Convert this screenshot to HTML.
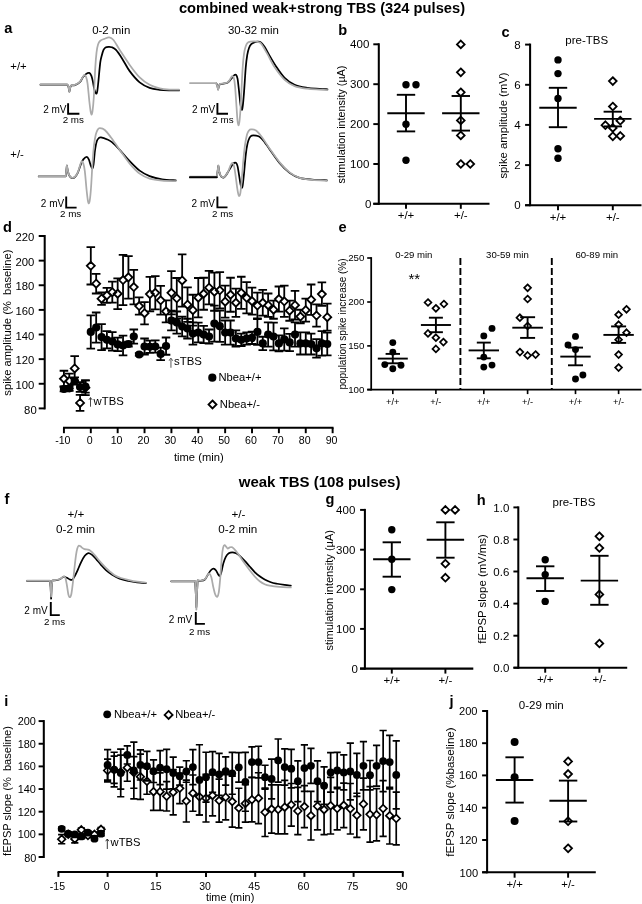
<!DOCTYPE html>
<html><head><meta charset="utf-8"><title>figure</title>
<style>
html,body{margin:0;padding:0;background:#fff;}
svg{display:block;font-family:'Liberation Sans', Arial, Helvetica, sans-serif;}
</style></head><body>
<svg width="642" height="904" viewBox="0 0 642 904">
<rect width="642" height="904" fill="#fff"/>
<text x="322" y="13" font-size="14.7" text-anchor="middle" font-weight="bold" fill="#000">combined weak+strong TBS (324 pulses)</text>
<text x="319.6" y="486.9" font-size="15" text-anchor="middle" font-weight="bold" fill="#000">weak TBS (108 pulses)</text>
<text x="4.2" y="33.4" font-size="14.6" text-anchor="start" font-weight="bold" fill="#000">a</text>
<text x="338.3" y="34.7" font-size="14.6" text-anchor="start" font-weight="bold" fill="#000">b</text>
<text x="501.6" y="36.6" font-size="14.6" text-anchor="start" font-weight="bold" fill="#000">c</text>
<text x="3" y="232.1" font-size="14.6" text-anchor="start" font-weight="bold" fill="#000">d</text>
<text x="338.5" y="232.3" font-size="14.6" text-anchor="start" font-weight="bold" fill="#000">e</text>
<text x="4.5" y="503.9" font-size="14.6" text-anchor="start" font-weight="bold" fill="#000">f</text>
<text x="325.6" y="504.2" font-size="14.6" text-anchor="start" font-weight="bold" fill="#000">g</text>
<text x="476.7" y="504.6" font-size="14.6" text-anchor="start" font-weight="bold" fill="#000">h</text>
<text x="4.2" y="705.6" font-size="14.6" text-anchor="start" font-weight="bold" fill="#000">i</text>
<text x="449.6" y="705.7" font-size="14.6" text-anchor="start" font-weight="bold" fill="#000">j</text>
<path d="M40.47 84.7L54.92 84.7L67.38 84.7L68.38 86.32L69.38 91.56L70.37 87.07L71.37 85.33C71.95 85.29 73.45 85.62 74.86 85.08C76.27 84.54 78.52 83.37 79.84 82.09C81.17 80.8 81.84 78.68 82.83 77.35C83.83 76.02 84.75 74.86 85.83 74.11C86.91 73.36 88.4 72.62 89.31 72.87C90.23 73.12 90.73 74.24 91.31 75.61C91.89 76.98 92.31 78.81 92.8 81.09C93.3 83.37 93.76 87.24 94.3 89.31C94.84 91.39 95.55 93.26 96.04 93.55C96.54 93.84 96.87 93.34 97.29 91.06C97.71 88.77 98.04 84.62 98.54 79.84C99.03 75.07 99.74 66.47 100.28 62.4C100.82 58.33 101.24 57.5 101.78 55.42C102.32 53.34 102.9 51.27 103.52 49.94C104.14 48.61 104.68 47.96 105.51 47.45C106.34 46.93 107.47 46.86 108.5 46.82C109.54 46.78 110.5 46.68 111.74 47.2C112.99 47.72 114.24 48.03 115.98 49.94C117.73 51.85 119.93 55.13 122.21 58.66C124.5 62.19 126.78 67.18 129.69 71.12C132.6 75.07 136.33 79.55 139.66 82.34C142.98 85.12 146.3 86.57 149.63 87.82C152.95 89.07 156.27 89.38 159.6 89.81C162.92 90.25 166.32 90.33 169.56 90.44C172.8 90.54 177.46 90.44 179.03 90.44" fill="none" stroke="#000" stroke-width="1.75" stroke-linecap="round" stroke-linejoin="round"/>
<path d="M40.47 84.33L54.92 84.33L67.38 84.33L68.38 86.07L69.38 91.81L70.37 86.82L71.37 85.08C71.95 85.04 73.45 85.37 74.86 84.83C76.27 84.29 78.6 83 79.84 81.84C81.09 80.67 81.59 79.01 82.34 77.85C83.08 76.69 83.71 75.03 84.33 74.86C84.95 74.69 85.53 75.4 86.07 76.85C86.61 78.31 87.03 79.55 87.57 83.58C88.11 87.61 88.82 96.46 89.31 101.03C89.81 105.6 90.19 108.71 90.56 111C90.93 113.28 91.23 114.74 91.56 114.74C91.89 114.74 92.18 113.9 92.55 111C92.93 108.09 93.34 104.56 93.8 97.29C94.26 90.02 94.84 74.86 95.3 67.38C95.75 59.91 96.09 56.25 96.54 52.43C97 48.61 97.41 46.41 98.04 44.45C98.66 42.5 99.16 41.67 100.28 40.72C101.4 39.76 103.27 39.26 104.77 38.72C106.26 38.18 107.8 37.27 109.25 37.48C110.71 37.68 111.74 37.89 113.49 39.97C115.23 42.05 117.02 45.78 119.72 49.94C122.42 54.09 126.37 60.32 129.69 64.89C133.01 69.46 136.33 74.03 139.66 77.35C142.98 80.67 146.3 83 149.63 84.83C152.95 86.66 156.27 87.53 159.6 88.32C162.92 89.11 166.32 89.34 169.56 89.56C172.8 89.79 177.46 89.67 179.03 89.69" fill="none" stroke="#ababab" stroke-width="1.75" stroke-linecap="round" stroke-linejoin="round"/>
<path d="M216.36 83.46L217.35 85.58L218.1 89.31L219.1 85.58L220.09 84.08C220.67 84 222.46 83.75 223.58 83.58C224.7 83.42 225.78 83.58 226.82 83.08C227.86 82.59 228.9 81.55 229.81 80.59C230.73 79.64 231.56 78.27 232.31 77.35C233.05 76.44 233.68 75.52 234.3 75.11C234.92 74.69 235.5 74.28 236.04 74.86C236.58 75.44 237.04 75.9 237.54 78.6C238.04 81.3 238.54 86.7 239.03 91.06C239.53 95.42 240.07 101.65 240.53 104.77C240.99 107.88 241.4 109.54 241.78 109.75C242.15 109.96 242.4 108.92 242.77 106.01C243.15 103.1 243.52 98.74 244.02 92.31C244.52 85.87 245.22 73.61 245.76 67.38C246.3 61.15 246.72 58.16 247.26 54.92C247.8 51.68 248.34 49.73 249 47.94C249.67 46.16 250.37 45.14 251.25 44.21C252.12 43.27 253.16 42.75 254.24 42.34C255.32 41.92 256.56 41.67 257.73 41.71C258.89 41.75 260.05 41.71 261.21 42.59C262.38 43.46 263.5 45.1 264.7 46.95C265.91 48.8 266.57 50.48 268.44 53.68C270.31 56.87 273.22 62.11 275.92 66.14C278.62 70.17 281.53 74.74 284.64 77.85C287.76 80.97 290.87 83.17 294.61 84.83C298.35 86.49 302.92 87.15 307.07 87.82C311.23 88.48 316.13 88.57 319.53 88.82C322.94 89.07 326.18 89.23 327.51 89.31" fill="none" stroke="#000" stroke-width="1.75" stroke-linecap="round" stroke-linejoin="round"/>
<path d="M189.94 83.08L202.4 83.08L216.11 83.08L217.1 85.33L218.1 89.81L219.1 85.33L220.09 83.83C220.67 83.75 222.46 83.5 223.58 83.33C224.7 83.17 225.87 83.29 226.82 82.83C227.78 82.38 228.61 81.46 229.31 80.59C230.02 79.72 230.56 78.35 231.06 77.6C231.56 76.85 231.85 76.06 232.31 76.11C232.76 76.15 233.34 76.19 233.8 77.85C234.26 79.51 234.59 81.17 235.05 86.07C235.5 90.98 236.13 101.44 236.54 107.26C236.96 113.07 237.21 117.93 237.54 120.97C237.87 124 238.2 125.45 238.54 125.45C238.87 125.45 239.16 124.41 239.53 120.97C239.91 117.52 240.28 113.28 240.78 104.77C241.28 96.25 241.98 78.39 242.52 69.88C243.06 61.36 243.48 57.62 244.02 53.68C244.56 49.73 245.18 47.99 245.76 46.2C246.34 44.41 246.76 43.71 247.51 42.96C248.26 42.21 249.04 41.96 250.25 41.71C251.45 41.46 253.32 41.38 254.74 41.46C256.15 41.55 257.56 41.71 258.72 42.21C259.89 42.71 260.3 42.54 261.71 44.45C263.13 46.37 265.04 49.85 267.2 53.68C269.36 57.5 271.77 63.02 274.67 67.38C277.58 71.74 281.32 76.73 284.64 79.84C287.96 82.96 290.87 84.6 294.61 86.07C298.35 87.55 302.92 88.11 307.07 88.69C311.23 89.27 316.13 89.34 319.53 89.56C322.94 89.79 326.18 89.98 327.51 90.06" fill="none" stroke="#ababab" stroke-width="1.75" stroke-linecap="round" stroke-linejoin="round"/>
<path d="M38.72 176.45L52.43 176.45L65.64 176.45L66.39 170.09L66.88 165.61L67.63 170.09L68.88 175.08C69.21 175.49 70.21 177.07 70.87 177.57C71.54 178.07 72.12 178.23 72.87 178.07C73.61 177.9 74.53 177.49 75.36 176.57C76.19 175.66 76.94 174.62 77.85 172.59C78.76 170.55 79.93 166.56 80.84 164.36C81.75 162.16 82.34 160.62 83.33 159.38C84.33 158.13 85.91 156.88 86.82 156.88C87.74 156.88 88.19 158.05 88.82 159.38C89.44 160.71 89.98 163.32 90.56 164.86C91.14 166.4 91.81 168.68 92.31 168.6C92.8 168.52 93.09 167.48 93.55 164.36C94.01 161.25 94.51 153.77 95.05 149.91C95.59 146.04 96.17 143.14 96.79 141.18C97.41 139.23 98.08 138.82 98.79 138.19C99.49 137.57 99.62 137.24 101.03 137.45C102.44 137.65 105.39 138.61 107.26 139.44C109.13 140.27 110.17 140.69 112.24 142.43C114.32 144.17 116.81 146.79 119.72 149.91C122.63 153.02 126.37 157.67 129.69 161.12C133.01 164.57 136.33 168.1 139.66 170.59C142.98 173.08 145.89 174.62 149.63 176.07C153.36 177.53 157.73 178.61 162.09 179.31C166.45 180.02 173.51 180.15 175.79 180.31" fill="none" stroke="#000" stroke-width="1.75" stroke-linecap="round" stroke-linejoin="round"/>
<path d="M38.72 176.07L52.43 176.07L65.64 176.07L66.39 169.84L66.88 165.36L67.63 169.84L68.88 174.83C69.21 175.24 70.21 176.82 70.87 177.32C71.54 177.82 72.12 177.99 72.87 177.82C73.61 177.65 74.53 177.24 75.36 176.32C76.19 175.41 77.02 174.33 77.85 172.34C78.68 170.34 79.68 166.23 80.34 164.36C81.01 162.49 81.34 161.25 81.84 161.12C82.34 161 82.83 161.95 83.33 163.61C83.83 165.28 84.29 166.73 84.83 171.09C85.37 175.45 86.07 184.92 86.57 189.78C87.07 194.64 87.45 197.96 87.82 200.25C88.19 202.53 88.48 203.49 88.82 203.49C89.15 203.49 89.44 202.95 89.81 200.25C90.19 197.55 90.6 193.6 91.06 187.29C91.52 180.98 92.06 169.43 92.55 162.37C93.05 155.31 93.51 149.57 94.05 144.92C94.59 140.27 95.17 137.03 95.79 134.45C96.42 131.88 97.12 130.51 97.79 129.47C98.45 128.43 98.62 128.14 99.78 128.22C100.94 128.31 102.9 128.43 104.77 129.97C106.64 131.51 108.5 134.12 111 137.45C113.49 140.77 116.6 145.55 119.72 149.91C122.83 154.27 126.37 159.67 129.69 163.61C133.01 167.56 136.33 171.09 139.66 173.58C142.98 176.07 145.89 177.4 149.63 178.57C153.36 179.73 157.73 180.15 162.09 180.56C166.45 180.98 173.51 180.98 175.79 181.06" fill="none" stroke="#ababab" stroke-width="1.75" stroke-linecap="round" stroke-linejoin="round"/>
<path d="M189.94 177.45L202.4 177.45L216.85 177.45L217.6 171.34L218.35 165.86L219.1 171.34L220.34 175.08C220.59 175.41 221.3 176.66 221.84 177.07C222.38 177.49 222.92 177.82 223.58 177.57C224.25 177.32 224.95 176.74 225.83 175.58C226.7 174.41 227.74 172.38 228.82 170.59C229.9 168.81 231.39 166.15 232.31 164.86C233.22 163.57 233.68 163.2 234.3 162.87C234.92 162.53 235.5 162.33 236.04 162.87C236.58 163.41 237.04 164.11 237.54 166.11C238.04 168.1 238.54 171.8 239.03 174.83C239.53 177.86 240.07 182.14 240.53 184.3C240.99 186.46 241.4 187.71 241.78 187.79C242.15 187.87 242.4 187.17 242.77 184.8C243.15 182.43 243.52 178.57 244.02 173.58C244.52 168.6 245.18 159.88 245.76 154.89C246.34 149.91 246.88 146.5 247.51 143.68C248.13 140.85 248.8 139.27 249.5 137.94C250.21 136.61 250.66 136.07 251.74 135.7C252.82 135.33 254.57 135.45 255.98 135.7C257.39 135.95 258.81 136.16 260.22 137.2C261.63 138.23 262.88 139.9 264.45 141.93C266.03 143.97 267.15 145.88 269.69 149.41C272.22 152.94 276.33 159.21 279.66 163.12C282.98 167.02 286.3 170.38 289.63 172.83C292.95 175.29 295.86 176.7 299.6 177.82C303.33 178.94 307.49 179.15 312.06 179.56C316.63 179.98 324.52 180.19 327.01 180.31" fill="none" stroke="#000" stroke-width="1.75" stroke-linecap="round" stroke-linejoin="round"/>
<path d="M189.94 176.7L202.4 176.7L216.85 176.7L217.6 171.09L218.35 165.36L219.1 171.09L220.34 174.83C220.59 175.16 221.3 176.41 221.84 176.82C222.38 177.24 222.92 177.57 223.58 177.32C224.25 177.07 225.04 176.37 225.83 175.33C226.61 174.29 227.53 172.75 228.32 171.09C229.11 169.43 229.9 166.73 230.56 165.36C231.23 163.99 231.77 162.87 232.31 162.87C232.85 162.87 233.3 163.57 233.8 165.36C234.3 167.14 234.76 170.01 235.3 173.58C235.84 177.15 236.54 183.39 237.04 186.79C237.54 190.2 237.91 192.48 238.29 194.02C238.66 195.56 238.95 196.1 239.28 196.01C239.62 195.93 239.91 195.8 240.28 193.52C240.65 191.24 241.03 187.71 241.53 182.31C242.02 176.91 242.69 167.35 243.27 161.12C243.85 154.89 244.39 149.37 245.02 144.92C245.64 140.48 246.34 136.86 247.01 134.45C247.67 132.05 248.34 131.3 249 130.47C249.67 129.64 249.83 129.47 251 129.47C252.16 129.47 254.11 129.14 255.98 130.47C257.85 131.8 259.93 134.41 262.21 137.45C264.5 140.48 266.78 144.51 269.69 148.66C272.6 152.81 276.33 158.42 279.66 162.37C282.98 166.31 286.3 169.76 289.63 172.34C292.95 174.91 295.86 176.55 299.6 177.82C303.33 179.09 307.49 179.44 312.06 179.94C316.63 180.44 324.52 180.66 327.01 180.81" fill="none" stroke="#ababab" stroke-width="1.75" stroke-linecap="round" stroke-linejoin="round"/>
<path d="M189.94 177.2L202.4 177.2L216.6 177.2" fill="none" stroke="#000" stroke-width="1.75" stroke-linecap="round" stroke-linejoin="round"/>
<path d="M68.1 103.3L68.1 113.8L79.4 113.8" fill="none" stroke="#000" stroke-width="1.9"/>
<text x="66.5" y="113.1" font-size="10" text-anchor="end" fill="#000">2 mV</text>
<text x="62.7" y="123.1" font-size="9.8" text-anchor="start" fill="#000">2 ms</text>
<path d="M217.4 103L217.4 113.8L228 113.8" fill="none" stroke="#000" stroke-width="1.9"/>
<text x="215.3" y="112.8" font-size="10" text-anchor="end" fill="#000">2 mV</text>
<text x="212.3" y="123.1" font-size="9.8" text-anchor="start" fill="#000">2 ms</text>
<path d="M66.2 196.4L66.2 207.6L76.6 207.6" fill="none" stroke="#000" stroke-width="1.9"/>
<text x="64.2" y="207.3" font-size="10" text-anchor="end" fill="#000">2 mV</text>
<text x="60" y="217.1" font-size="9.8" text-anchor="start" fill="#000">2 ms</text>
<path d="M217.4 196.4L217.4 207.4L227.5 207.4" fill="none" stroke="#000" stroke-width="1.9"/>
<text x="214.9" y="207.3" font-size="10" text-anchor="end" fill="#000">2 mV</text>
<text x="212" y="217.4" font-size="9.8" text-anchor="start" fill="#000">2 ms</text>
<text x="111.2" y="33.8" font-size="11.45" text-anchor="middle" fill="#000">0-2 min</text>
<text x="253.4" y="33.8" font-size="11.45" text-anchor="middle" fill="#000">30-32 min</text>
<text x="10.3" y="70.3" font-size="11.3" text-anchor="start" fill="#000">+/+</text>
<text x="10.3" y="157.8" font-size="11.3" text-anchor="start" fill="#000">+/-</text>
<line x1="378.8" y1="43.27" x2="378.8" y2="204.83" stroke="#000" stroke-width="2.05" stroke-linecap="butt"/>
<line x1="373.3" y1="44.3" x2="378.8" y2="44.3" stroke="#000" stroke-width="1.95" stroke-linecap="butt"/>
<text x="369.3" y="48.42" font-size="11.5" text-anchor="end" fill="#000">400</text>
<line x1="373.3" y1="84.2" x2="378.8" y2="84.2" stroke="#000" stroke-width="1.95" stroke-linecap="butt"/>
<text x="369.3" y="88.32" font-size="11.5" text-anchor="end" fill="#000">300</text>
<line x1="373.3" y1="124.1" x2="378.8" y2="124.1" stroke="#000" stroke-width="1.95" stroke-linecap="butt"/>
<text x="369.3" y="128.22" font-size="11.5" text-anchor="end" fill="#000">200</text>
<line x1="373.3" y1="164" x2="378.8" y2="164" stroke="#000" stroke-width="1.95" stroke-linecap="butt"/>
<text x="369.3" y="168.12" font-size="11.5" text-anchor="end" fill="#000">100</text>
<line x1="373.3" y1="203.8" x2="378.8" y2="203.8" stroke="#000" stroke-width="1.95" stroke-linecap="butt"/>
<text x="371.3" y="207.92" font-size="11.5" text-anchor="end" fill="#000">0</text>
<line x1="373.3" y1="203.8" x2="489.5" y2="203.8" stroke="#000" stroke-width="2.05" stroke-linecap="butt"/>
<line x1="406" y1="203.8" x2="406" y2="208.8" stroke="#000" stroke-width="1.95" stroke-linecap="butt"/>
<text x="406" y="218.8" font-size="11.5" text-anchor="middle" fill="#000">+/+</text>
<line x1="460.8" y1="203.8" x2="460.8" y2="208.8" stroke="#000" stroke-width="1.95" stroke-linecap="butt"/>
<text x="460.8" y="218.8" font-size="11.5" text-anchor="middle" fill="#000">+/-</text>
<text x="345.1" y="124.5" font-size="10.8" text-anchor="middle" transform="rotate(-90 345.1 124.5)" fill="#000">stimulation intensity (µA)</text>
<circle cx="406" cy="84.8" r="3.7" fill="#000"/>
<circle cx="416" cy="84.8" r="3.7" fill="#000"/>
<circle cx="406" cy="124.2" r="3.7" fill="#000"/>
<circle cx="406" cy="160.3" r="3.7" fill="#000"/>
<line x1="406" y1="94.8" x2="406" y2="131.4" stroke="#000" stroke-width="1.9" stroke-linecap="butt"/>
<line x1="396.8" y1="94.8" x2="415.2" y2="94.8" stroke="#000" stroke-width="1.9" stroke-linecap="butt"/>
<line x1="396.8" y1="131.4" x2="415.2" y2="131.4" stroke="#000" stroke-width="1.9" stroke-linecap="butt"/>
<line x1="387.3" y1="113.2" x2="424.7" y2="113.2" stroke="#000" stroke-width="1.9" stroke-linecap="butt"/>
<path d="M460.8 40.55L464.65 44.4L460.8 48.25L456.95 44.4Z" fill="#fff" stroke="#000" stroke-width="1.8" stroke-linejoin="miter"/>
<path d="M460.8 68.45L464.65 72.3L460.8 76.15L456.95 72.3Z" fill="#fff" stroke="#000" stroke-width="1.8" stroke-linejoin="miter"/>
<path d="M460.8 88.45L464.65 92.3L460.8 96.15L456.95 92.3Z" fill="#fff" stroke="#000" stroke-width="1.8" stroke-linejoin="miter"/>
<path d="M460.8 116.55L464.65 120.4L460.8 124.25L456.95 120.4Z" fill="#fff" stroke="#000" stroke-width="1.8" stroke-linejoin="miter"/>
<path d="M460.8 131.55L464.65 135.4L460.8 139.25L456.95 135.4Z" fill="#fff" stroke="#000" stroke-width="1.8" stroke-linejoin="miter"/>
<path d="M460.8 160.15L464.65 164L460.8 167.85L456.95 164Z" fill="#fff" stroke="#000" stroke-width="1.8" stroke-linejoin="miter"/>
<path d="M470.3 160.15L474.15 164L470.3 167.85L466.45 164Z" fill="#fff" stroke="#000" stroke-width="1.8" stroke-linejoin="miter"/>
<line x1="460.8" y1="96" x2="460.8" y2="130.6" stroke="#000" stroke-width="1.9" stroke-linecap="butt"/>
<line x1="451.6" y1="96" x2="470" y2="96" stroke="#000" stroke-width="1.9" stroke-linecap="butt"/>
<line x1="451.6" y1="130.6" x2="470" y2="130.6" stroke="#000" stroke-width="1.9" stroke-linecap="butt"/>
<line x1="442.1" y1="113.2" x2="479.5" y2="113.2" stroke="#000" stroke-width="1.9" stroke-linecap="butt"/>
<line x1="530.1" y1="43.58" x2="530.1" y2="206.22" stroke="#000" stroke-width="2.05" stroke-linecap="butt"/>
<line x1="525.1" y1="44.6" x2="530.1" y2="44.6" stroke="#000" stroke-width="1.95" stroke-linecap="butt"/>
<text x="520.7" y="48.72" font-size="11.5" text-anchor="end" fill="#000">8</text>
<line x1="525.1" y1="84.8" x2="530.1" y2="84.8" stroke="#000" stroke-width="1.95" stroke-linecap="butt"/>
<text x="520.7" y="88.92" font-size="11.5" text-anchor="end" fill="#000">6</text>
<line x1="525.1" y1="124.9" x2="530.1" y2="124.9" stroke="#000" stroke-width="1.95" stroke-linecap="butt"/>
<text x="520.7" y="129.02" font-size="11.5" text-anchor="end" fill="#000">4</text>
<line x1="525.1" y1="165.1" x2="530.1" y2="165.1" stroke="#000" stroke-width="1.95" stroke-linecap="butt"/>
<text x="520.7" y="169.22" font-size="11.5" text-anchor="end" fill="#000">2</text>
<line x1="525.1" y1="205.2" x2="530.1" y2="205.2" stroke="#000" stroke-width="1.95" stroke-linecap="butt"/>
<text x="520.7" y="209.32" font-size="11.5" text-anchor="end" fill="#000">0</text>
<line x1="525.1" y1="205.2" x2="641.5" y2="205.2" stroke="#000" stroke-width="2.05" stroke-linecap="butt"/>
<line x1="558" y1="205.2" x2="558" y2="210.2" stroke="#000" stroke-width="1.95" stroke-linecap="butt"/>
<text x="558" y="220.7" font-size="11.5" text-anchor="middle" fill="#000">+/+</text>
<line x1="612.8" y1="205.2" x2="612.8" y2="210.2" stroke="#000" stroke-width="1.95" stroke-linecap="butt"/>
<text x="612.8" y="220.7" font-size="11.5" text-anchor="middle" fill="#000">+/-</text>
<text x="507.2" y="125.5" font-size="11.3" text-anchor="middle" transform="rotate(-90 507.2 125.5)" fill="#000">spike amplitude (mV)</text>
<text x="586.7" y="43.5" font-size="11.5" text-anchor="middle" fill="#000">pre-TBS</text>
<circle cx="558" cy="59.9" r="3.7" fill="#000"/>
<circle cx="558" cy="73.6" r="3.7" fill="#000"/>
<circle cx="558" cy="98.5" r="3.7" fill="#000"/>
<circle cx="558" cy="148.8" r="3.7" fill="#000"/>
<circle cx="558" cy="158.3" r="3.7" fill="#000"/>
<line x1="558" y1="87.8" x2="558" y2="127.2" stroke="#000" stroke-width="1.9" stroke-linecap="butt"/>
<line x1="548.8" y1="87.8" x2="567.2" y2="87.8" stroke="#000" stroke-width="1.9" stroke-linecap="butt"/>
<line x1="548.8" y1="127.2" x2="567.2" y2="127.2" stroke="#000" stroke-width="1.9" stroke-linecap="butt"/>
<line x1="539.3" y1="107.7" x2="576.7" y2="107.7" stroke="#000" stroke-width="1.9" stroke-linecap="butt"/>
<path d="M612.8 77.25L616.65 81.1L612.8 84.95L608.95 81.1Z" fill="#fff" stroke="#000" stroke-width="1.8" stroke-linejoin="miter"/>
<path d="M612.8 102.65L616.65 106.5L612.8 110.35L608.95 106.5Z" fill="#fff" stroke="#000" stroke-width="1.8" stroke-linejoin="miter"/>
<path d="M620.3 116.85L624.15 120.7L620.3 124.55L616.45 120.7Z" fill="#fff" stroke="#000" stroke-width="1.8" stroke-linejoin="miter"/>
<path d="M605.4 121.35L609.25 125.2L605.4 129.05L601.55 125.2Z" fill="#fff" stroke="#000" stroke-width="1.8" stroke-linejoin="miter"/>
<path d="M612.8 124.05L616.65 127.9L612.8 131.75L608.95 127.9Z" fill="#fff" stroke="#000" stroke-width="1.8" stroke-linejoin="miter"/>
<path d="M612.8 132.45L616.65 136.3L612.8 140.15L608.95 136.3Z" fill="#fff" stroke="#000" stroke-width="1.8" stroke-linejoin="miter"/>
<path d="M620.3 132.05L624.15 135.9L620.3 139.75L616.45 135.9Z" fill="#fff" stroke="#000" stroke-width="1.8" stroke-linejoin="miter"/>
<line x1="612.8" y1="111.7" x2="612.8" y2="126.4" stroke="#000" stroke-width="1.9" stroke-linecap="butt"/>
<line x1="603.6" y1="111.7" x2="622" y2="111.7" stroke="#000" stroke-width="1.9" stroke-linecap="butt"/>
<line x1="603.6" y1="126.4" x2="622" y2="126.4" stroke="#000" stroke-width="1.9" stroke-linecap="butt"/>
<line x1="594.1" y1="118.9" x2="631.5" y2="118.9" stroke="#000" stroke-width="1.9" stroke-linecap="butt"/>
<line x1="371.2" y1="257.12" x2="371.2" y2="390.48" stroke="#000" stroke-width="1.75" stroke-linecap="butt"/>
<line x1="367.2" y1="258" x2="371.2" y2="258" stroke="#000" stroke-width="1.65" stroke-linecap="butt"/>
<text x="364.4" y="261.47" font-size="9.7" text-anchor="end" fill="#000">250</text>
<line x1="367.2" y1="302" x2="371.2" y2="302" stroke="#000" stroke-width="1.65" stroke-linecap="butt"/>
<text x="364.4" y="305.47" font-size="9.7" text-anchor="end" fill="#000">200</text>
<line x1="367.2" y1="345.9" x2="371.2" y2="345.9" stroke="#000" stroke-width="1.65" stroke-linecap="butt"/>
<text x="364.4" y="349.37" font-size="9.7" text-anchor="end" fill="#000">150</text>
<line x1="367.2" y1="389.6" x2="371.2" y2="389.6" stroke="#000" stroke-width="1.65" stroke-linecap="butt"/>
<text x="364.4" y="393.47" font-size="9.7" text-anchor="end" fill="#000">100</text>
<line x1="367.2" y1="389.6" x2="641.5" y2="389.6" stroke="#000" stroke-width="1.75" stroke-linecap="butt"/>
<line x1="392.8" y1="389.6" x2="392.8" y2="394.1" stroke="#000" stroke-width="1.65" stroke-linecap="butt"/>
<text x="392.8" y="404.7" font-size="9.3" text-anchor="middle" fill="#000">+/+</text>
<line x1="435.9" y1="389.6" x2="435.9" y2="394.1" stroke="#000" stroke-width="1.65" stroke-linecap="butt"/>
<text x="435.9" y="404.7" font-size="9.3" text-anchor="middle" fill="#000">+/-</text>
<line x1="483.8" y1="389.6" x2="483.8" y2="394.1" stroke="#000" stroke-width="1.65" stroke-linecap="butt"/>
<text x="483.8" y="404.7" font-size="9.3" text-anchor="middle" fill="#000">+/+</text>
<line x1="527.6" y1="389.6" x2="527.6" y2="394.1" stroke="#000" stroke-width="1.65" stroke-linecap="butt"/>
<text x="527.6" y="404.7" font-size="9.3" text-anchor="middle" fill="#000">+/-</text>
<line x1="575.5" y1="389.6" x2="575.5" y2="394.1" stroke="#000" stroke-width="1.65" stroke-linecap="butt"/>
<text x="575.5" y="404.7" font-size="9.3" text-anchor="middle" fill="#000">+/+</text>
<line x1="618.6" y1="389.6" x2="618.6" y2="394.1" stroke="#000" stroke-width="1.65" stroke-linecap="butt"/>
<text x="618.6" y="404.7" font-size="9.3" text-anchor="middle" fill="#000">+/-</text>
<text x="345.8" y="324" font-size="10" text-anchor="middle" transform="rotate(-90 345.8 324)" fill="#000">population spike increase (%)</text>
<line x1="460.4" y1="258" x2="460.4" y2="389.5" stroke="#000" stroke-width="1.9" stroke-dasharray="7 3"/>
<line x1="551.8" y1="258" x2="551.8" y2="389.5" stroke="#000" stroke-width="1.9" stroke-dasharray="7 3"/>
<text x="413.8" y="257.5" font-size="9.6" text-anchor="middle" fill="#000">0-29 min</text>
<text x="507.4" y="257.5" font-size="9.6" text-anchor="middle" fill="#000">30-59 min</text>
<text x="596.8" y="257.5" font-size="9.6" text-anchor="middle" fill="#000">60-89 min</text>
<text x="414.3" y="283.8" font-size="15" text-anchor="middle" fill="#000">**</text>
<circle cx="392.8" cy="342.6" r="3.45" fill="#000"/>
<circle cx="392.8" cy="352.1" r="3.45" fill="#000"/>
<circle cx="384.8" cy="364.6" r="3.45" fill="#000"/>
<circle cx="401" cy="365.3" r="3.45" fill="#000"/>
<circle cx="392.8" cy="368.8" r="3.45" fill="#000"/>
<line x1="392.8" y1="353.9" x2="392.8" y2="363.3" stroke="#000" stroke-width="1.9" stroke-linecap="butt"/>
<line x1="385.6" y1="353.9" x2="400" y2="353.9" stroke="#000" stroke-width="1.9" stroke-linecap="butt"/>
<line x1="385.6" y1="363.3" x2="400" y2="363.3" stroke="#000" stroke-width="1.9" stroke-linecap="butt"/>
<line x1="377.8" y1="358.6" x2="407.8" y2="358.6" stroke="#000" stroke-width="1.9" stroke-linecap="butt"/>
<path d="M428 299.1L431.4 302.5L428 305.9L424.6 302.5Z" fill="#fff" stroke="#000" stroke-width="1.7" stroke-linejoin="miter"/>
<path d="M443.9 300.6L447.3 304L443.9 307.4L440.5 304Z" fill="#fff" stroke="#000" stroke-width="1.7" stroke-linejoin="miter"/>
<path d="M435.9 304.9L439.3 308.3L435.9 311.7L432.5 308.3Z" fill="#fff" stroke="#000" stroke-width="1.7" stroke-linejoin="miter"/>
<path d="M428 330L431.4 333.4L428 336.8L424.6 333.4Z" fill="#fff" stroke="#000" stroke-width="1.7" stroke-linejoin="miter"/>
<path d="M435.9 334.3L439.3 337.7L435.9 341.1L432.5 337.7Z" fill="#fff" stroke="#000" stroke-width="1.7" stroke-linejoin="miter"/>
<path d="M443.4 338.7L446.8 342.1L443.4 345.5L440 342.1Z" fill="#fff" stroke="#000" stroke-width="1.7" stroke-linejoin="miter"/>
<path d="M435.9 345.5L439.3 348.9L435.9 352.3L432.5 348.9Z" fill="#fff" stroke="#000" stroke-width="1.7" stroke-linejoin="miter"/>
<line x1="435.9" y1="317.7" x2="435.9" y2="332.2" stroke="#000" stroke-width="1.9" stroke-linecap="butt"/>
<line x1="428.9" y1="317.7" x2="442.9" y2="317.7" stroke="#000" stroke-width="1.9" stroke-linecap="butt"/>
<line x1="428.9" y1="332.2" x2="442.9" y2="332.2" stroke="#000" stroke-width="1.9" stroke-linecap="butt"/>
<line x1="420.9" y1="325" x2="450.9" y2="325" stroke="#000" stroke-width="1.9" stroke-linecap="butt"/>
<circle cx="492" cy="328.4" r="3.45" fill="#000"/>
<circle cx="483.8" cy="335.9" r="3.45" fill="#000"/>
<circle cx="483.8" cy="357.1" r="3.45" fill="#000"/>
<circle cx="492" cy="365.1" r="3.45" fill="#000"/>
<circle cx="483.8" cy="367.1" r="3.45" fill="#000"/>
<line x1="483.8" y1="342.6" x2="483.8" y2="358.3" stroke="#000" stroke-width="1.9" stroke-linecap="butt"/>
<line x1="476.8" y1="342.6" x2="490.8" y2="342.6" stroke="#000" stroke-width="1.9" stroke-linecap="butt"/>
<line x1="476.8" y1="358.3" x2="490.8" y2="358.3" stroke="#000" stroke-width="1.9" stroke-linecap="butt"/>
<line x1="468.6" y1="350.4" x2="499" y2="350.4" stroke="#000" stroke-width="1.9" stroke-linecap="butt"/>
<path d="M527.6 284.4L531 287.8L527.6 291.2L524.2 287.8Z" fill="#fff" stroke="#000" stroke-width="1.7" stroke-linejoin="miter"/>
<path d="M527.6 295.6L531 299L527.6 302.4L524.2 299Z" fill="#fff" stroke="#000" stroke-width="1.7" stroke-linejoin="miter"/>
<path d="M519.9 314.3L523.3 317.7L519.9 321.1L516.5 317.7Z" fill="#fff" stroke="#000" stroke-width="1.7" stroke-linejoin="miter"/>
<path d="M527.6 322.6L531 326L527.6 329.4L524.2 326Z" fill="#fff" stroke="#000" stroke-width="1.7" stroke-linejoin="miter"/>
<path d="M519.9 348.7L523.3 352.1L519.9 355.5L516.5 352.1Z" fill="#fff" stroke="#000" stroke-width="1.7" stroke-linejoin="miter"/>
<path d="M527.6 352L531 355.4L527.6 358.8L524.2 355.4Z" fill="#fff" stroke="#000" stroke-width="1.7" stroke-linejoin="miter"/>
<path d="M535.6 351.2L539 354.6L535.6 358L532.2 354.6Z" fill="#fff" stroke="#000" stroke-width="1.7" stroke-linejoin="miter"/>
<line x1="527.6" y1="317.2" x2="527.6" y2="337.9" stroke="#000" stroke-width="1.9" stroke-linecap="butt"/>
<line x1="520.1" y1="317.2" x2="535.1" y2="317.2" stroke="#000" stroke-width="1.9" stroke-linecap="butt"/>
<line x1="520.1" y1="337.9" x2="535.1" y2="337.9" stroke="#000" stroke-width="1.9" stroke-linecap="butt"/>
<line x1="512.3" y1="327.7" x2="542.9" y2="327.7" stroke="#000" stroke-width="1.9" stroke-linecap="butt"/>
<circle cx="575.5" cy="336.4" r="3.45" fill="#000"/>
<circle cx="568" cy="344.9" r="3.45" fill="#000"/>
<circle cx="575.5" cy="349.6" r="3.45" fill="#000"/>
<circle cx="582.9" cy="375" r="3.45" fill="#000"/>
<circle cx="575.5" cy="379" r="3.45" fill="#000"/>
<line x1="575.5" y1="347.6" x2="575.5" y2="365.3" stroke="#000" stroke-width="1.9" stroke-linecap="butt"/>
<line x1="568" y1="347.6" x2="583" y2="347.6" stroke="#000" stroke-width="1.9" stroke-linecap="butt"/>
<line x1="568" y1="365.3" x2="583" y2="365.3" stroke="#000" stroke-width="1.9" stroke-linecap="butt"/>
<line x1="560.3" y1="356.6" x2="590.7" y2="356.6" stroke="#000" stroke-width="1.9" stroke-linecap="butt"/>
<path d="M626.5 305.9L629.9 309.3L626.5 312.7L623.1 309.3Z" fill="#fff" stroke="#000" stroke-width="1.7" stroke-linejoin="miter"/>
<path d="M618.6 311.3L622 314.7L618.6 318.1L615.2 314.7Z" fill="#fff" stroke="#000" stroke-width="1.7" stroke-linejoin="miter"/>
<path d="M618.6 321.3L622 324.7L618.6 328.1L615.2 324.7Z" fill="#fff" stroke="#000" stroke-width="1.7" stroke-linejoin="miter"/>
<path d="M626.5 329.3L629.9 332.7L626.5 336.1L623.1 332.7Z" fill="#fff" stroke="#000" stroke-width="1.7" stroke-linejoin="miter"/>
<path d="M618.6 336.3L622 339.7L618.6 343.1L615.2 339.7Z" fill="#fff" stroke="#000" stroke-width="1.7" stroke-linejoin="miter"/>
<path d="M618.6 351.2L622 354.6L618.6 358L615.2 354.6Z" fill="#fff" stroke="#000" stroke-width="1.7" stroke-linejoin="miter"/>
<path d="M618.6 364.2L622 367.6L618.6 371L615.2 367.6Z" fill="#fff" stroke="#000" stroke-width="1.7" stroke-linejoin="miter"/>
<line x1="618.6" y1="326.4" x2="618.6" y2="342.9" stroke="#000" stroke-width="1.9" stroke-linecap="butt"/>
<line x1="611.1" y1="326.4" x2="626.1" y2="326.4" stroke="#000" stroke-width="1.9" stroke-linecap="butt"/>
<line x1="611.1" y1="342.9" x2="626.1" y2="342.9" stroke="#000" stroke-width="1.9" stroke-linecap="butt"/>
<line x1="603.4" y1="334.9" x2="633.8" y2="334.9" stroke="#000" stroke-width="1.9" stroke-linecap="butt"/>
<line x1="364.9" y1="508.88" x2="364.9" y2="669.62" stroke="#000" stroke-width="2.05" stroke-linecap="butt"/>
<line x1="360.1" y1="509.9" x2="364.9" y2="509.9" stroke="#000" stroke-width="1.95" stroke-linecap="butt"/>
<text x="355.3" y="514.02" font-size="11.5" text-anchor="end" fill="#000">400</text>
<line x1="360.1" y1="549.7" x2="364.9" y2="549.7" stroke="#000" stroke-width="1.95" stroke-linecap="butt"/>
<text x="355.3" y="553.82" font-size="11.5" text-anchor="end" fill="#000">300</text>
<line x1="360.1" y1="589.3" x2="364.9" y2="589.3" stroke="#000" stroke-width="1.95" stroke-linecap="butt"/>
<text x="355.3" y="593.42" font-size="11.5" text-anchor="end" fill="#000">200</text>
<line x1="360.1" y1="628.9" x2="364.9" y2="628.9" stroke="#000" stroke-width="1.95" stroke-linecap="butt"/>
<text x="355.3" y="633.02" font-size="11.5" text-anchor="end" fill="#000">100</text>
<line x1="360.1" y1="668.6" x2="364.9" y2="668.6" stroke="#000" stroke-width="1.95" stroke-linecap="butt"/>
<text x="357.8" y="672.72" font-size="11.5" text-anchor="end" fill="#000">0</text>
<line x1="360" y1="668.6" x2="473.3" y2="668.6" stroke="#000" stroke-width="2.05" stroke-linecap="butt"/>
<line x1="391.8" y1="668.6" x2="391.8" y2="673.6" stroke="#000" stroke-width="1.95" stroke-linecap="butt"/>
<text x="391.8" y="683.5" font-size="11.5" text-anchor="middle" fill="#000">+/+</text>
<line x1="445.4" y1="668.6" x2="445.4" y2="673.6" stroke="#000" stroke-width="1.95" stroke-linecap="butt"/>
<text x="445.4" y="683.5" font-size="11.5" text-anchor="middle" fill="#000">+/-</text>
<text x="332.6" y="590.3" font-size="11.05" text-anchor="middle" transform="rotate(-90 332.6 590.3)" fill="#000">stimulation intensity (µA)</text>
<circle cx="391.8" cy="529.8" r="3.7" fill="#000"/>
<circle cx="391.8" cy="559.2" r="3.7" fill="#000"/>
<circle cx="391.8" cy="589.6" r="3.7" fill="#000"/>
<line x1="391.8" y1="542.3" x2="391.8" y2="576.7" stroke="#000" stroke-width="1.9" stroke-linecap="butt"/>
<line x1="382.6" y1="542.3" x2="401" y2="542.3" stroke="#000" stroke-width="1.9" stroke-linecap="butt"/>
<line x1="382.6" y1="576.7" x2="401" y2="576.7" stroke="#000" stroke-width="1.9" stroke-linecap="butt"/>
<line x1="373.1" y1="559.2" x2="410.5" y2="559.2" stroke="#000" stroke-width="1.9" stroke-linecap="butt"/>
<path d="M445.4 506.05L449.25 509.9L445.4 513.75L441.55 509.9Z" fill="#fff" stroke="#000" stroke-width="1.8" stroke-linejoin="miter"/>
<path d="M455.1 506.05L458.95 509.9L455.1 513.75L451.25 509.9Z" fill="#fff" stroke="#000" stroke-width="1.8" stroke-linejoin="miter"/>
<path d="M445.4 559.85L449.25 563.7L445.4 567.55L441.55 563.7Z" fill="#fff" stroke="#000" stroke-width="1.8" stroke-linejoin="miter"/>
<path d="M445.4 573.85L449.25 577.7L445.4 581.55L441.55 577.7Z" fill="#fff" stroke="#000" stroke-width="1.8" stroke-linejoin="miter"/>
<line x1="445.4" y1="522.3" x2="445.4" y2="557.7" stroke="#000" stroke-width="1.9" stroke-linecap="butt"/>
<line x1="436.2" y1="522.3" x2="454.6" y2="522.3" stroke="#000" stroke-width="1.9" stroke-linecap="butt"/>
<line x1="436.2" y1="557.7" x2="454.6" y2="557.7" stroke="#000" stroke-width="1.9" stroke-linecap="butt"/>
<line x1="426.7" y1="539.8" x2="464.1" y2="539.8" stroke="#000" stroke-width="1.9" stroke-linecap="butt"/>
<line x1="518.3" y1="506.38" x2="518.3" y2="668.73" stroke="#000" stroke-width="2.05" stroke-linecap="butt"/>
<line x1="513.4" y1="507.4" x2="518.3" y2="507.4" stroke="#000" stroke-width="1.95" stroke-linecap="butt"/>
<text x="509.3" y="511.52" font-size="11.5" text-anchor="end" fill="#000">1.0</text>
<line x1="513.4" y1="539.5" x2="518.3" y2="539.5" stroke="#000" stroke-width="1.95" stroke-linecap="butt"/>
<text x="509.3" y="543.62" font-size="11.5" text-anchor="end" fill="#000">0.8</text>
<line x1="513.4" y1="571.5" x2="518.3" y2="571.5" stroke="#000" stroke-width="1.95" stroke-linecap="butt"/>
<text x="509.3" y="575.62" font-size="11.5" text-anchor="end" fill="#000">0.6</text>
<line x1="513.4" y1="603.6" x2="518.3" y2="603.6" stroke="#000" stroke-width="1.95" stroke-linecap="butt"/>
<text x="509.3" y="607.72" font-size="11.5" text-anchor="end" fill="#000">0.4</text>
<line x1="513.4" y1="635.7" x2="518.3" y2="635.7" stroke="#000" stroke-width="1.95" stroke-linecap="butt"/>
<text x="509.3" y="639.82" font-size="11.5" text-anchor="end" fill="#000">0.2</text>
<line x1="513.4" y1="667.7" x2="518.3" y2="667.7" stroke="#000" stroke-width="1.95" stroke-linecap="butt"/>
<text x="509.3" y="671.82" font-size="11.5" text-anchor="end" fill="#000">0.0</text>
<line x1="513.5" y1="667.7" x2="627.2" y2="667.7" stroke="#000" stroke-width="2.05" stroke-linecap="butt"/>
<line x1="545.2" y1="667.7" x2="545.2" y2="672.7" stroke="#000" stroke-width="1.95" stroke-linecap="butt"/>
<text x="545.2" y="682.5" font-size="11.5" text-anchor="middle" fill="#000">+/+</text>
<line x1="599.4" y1="667.7" x2="599.4" y2="672.7" stroke="#000" stroke-width="1.95" stroke-linecap="butt"/>
<text x="599.4" y="682.5" font-size="11.5" text-anchor="middle" fill="#000">+/-</text>
<text x="485.5" y="589" font-size="11.35" text-anchor="middle" transform="rotate(-90 485.5 589)" fill="#000">fEPSP slope (mV/ms)</text>
<text x="573.9" y="505.5" font-size="11.5" text-anchor="middle" fill="#000">pre-TBS</text>
<circle cx="545.2" cy="559.8" r="3.7" fill="#000"/>
<circle cx="545.2" cy="574.6" r="3.7" fill="#000"/>
<circle cx="545.2" cy="601.4" r="3.7" fill="#000"/>
<line x1="545.2" y1="566.3" x2="545.2" y2="591" stroke="#000" stroke-width="1.9" stroke-linecap="butt"/>
<line x1="536" y1="566.3" x2="554.4" y2="566.3" stroke="#000" stroke-width="1.9" stroke-linecap="butt"/>
<line x1="536" y1="591" x2="554.4" y2="591" stroke="#000" stroke-width="1.9" stroke-linecap="butt"/>
<line x1="526.5" y1="578.2" x2="563.9" y2="578.2" stroke="#000" stroke-width="1.9" stroke-linecap="butt"/>
<path d="M599.4 532.45L603.25 536.3L599.4 540.15L595.55 536.3Z" fill="#fff" stroke="#000" stroke-width="1.8" stroke-linejoin="miter"/>
<path d="M599.4 544.15L603.25 548L599.4 551.85L595.55 548Z" fill="#fff" stroke="#000" stroke-width="1.8" stroke-linejoin="miter"/>
<path d="M599.4 590.55L603.25 594.4L599.4 598.25L595.55 594.4Z" fill="#fff" stroke="#000" stroke-width="1.8" stroke-linejoin="miter"/>
<path d="M599.4 639.65L603.25 643.5L599.4 647.35L595.55 643.5Z" fill="#fff" stroke="#000" stroke-width="1.8" stroke-linejoin="miter"/>
<line x1="599.4" y1="555.8" x2="599.4" y2="604.8" stroke="#000" stroke-width="1.9" stroke-linecap="butt"/>
<line x1="590.2" y1="555.8" x2="608.6" y2="555.8" stroke="#000" stroke-width="1.9" stroke-linecap="butt"/>
<line x1="590.2" y1="604.8" x2="608.6" y2="604.8" stroke="#000" stroke-width="1.9" stroke-linecap="butt"/>
<line x1="580.7" y1="580.6" x2="618.1" y2="580.6" stroke="#000" stroke-width="1.9" stroke-linecap="butt"/>
<line x1="487.1" y1="709.98" x2="487.1" y2="873.32" stroke="#000" stroke-width="2.05" stroke-linecap="butt"/>
<line x1="482.1" y1="711" x2="487.1" y2="711" stroke="#000" stroke-width="1.95" stroke-linecap="butt"/>
<text x="477.5" y="714.97" font-size="11.1" text-anchor="end" fill="#000">200</text>
<line x1="482.1" y1="743.2" x2="487.1" y2="743.2" stroke="#000" stroke-width="1.95" stroke-linecap="butt"/>
<text x="477.5" y="747.17" font-size="11.1" text-anchor="end" fill="#000">180</text>
<line x1="482.1" y1="775.4" x2="487.1" y2="775.4" stroke="#000" stroke-width="1.95" stroke-linecap="butt"/>
<text x="477.5" y="779.37" font-size="11.1" text-anchor="end" fill="#000">160</text>
<line x1="482.1" y1="807.7" x2="487.1" y2="807.7" stroke="#000" stroke-width="1.95" stroke-linecap="butt"/>
<text x="477.5" y="811.67" font-size="11.1" text-anchor="end" fill="#000">140</text>
<line x1="482.1" y1="840" x2="487.1" y2="840" stroke="#000" stroke-width="1.95" stroke-linecap="butt"/>
<text x="477.5" y="843.97" font-size="11.1" text-anchor="end" fill="#000">120</text>
<line x1="482.1" y1="872.3" x2="487.1" y2="872.3" stroke="#000" stroke-width="1.95" stroke-linecap="butt"/>
<text x="478.1" y="877.47" font-size="11.1" text-anchor="end" fill="#000">100</text>
<line x1="482.2" y1="872.3" x2="595.8" y2="872.3" stroke="#000" stroke-width="2.05" stroke-linecap="butt"/>
<line x1="514.6" y1="872.3" x2="514.6" y2="877.7" stroke="#000" stroke-width="1.95" stroke-linecap="butt"/>
<text x="514.6" y="888.1" font-size="11.3" text-anchor="middle" fill="#000">+/+</text>
<line x1="568.1" y1="872.3" x2="568.1" y2="877.7" stroke="#000" stroke-width="1.95" stroke-linecap="butt"/>
<text x="568.1" y="888.1" font-size="11.3" text-anchor="middle" fill="#000">+/-</text>
<text x="453.6" y="792" font-size="11.6" text-anchor="middle" transform="rotate(-90 453.6 792)" fill="#000">fEPSP slope (%baseline)</text>
<text x="541.3" y="709.2" font-size="11.55" text-anchor="middle" fill="#000">0-29 min</text>
<circle cx="514.6" cy="741.9" r="4" fill="#000"/>
<circle cx="514.6" cy="777.2" r="4" fill="#000"/>
<circle cx="514.6" cy="820.9" r="4" fill="#000"/>
<line x1="514.6" y1="757.3" x2="514.6" y2="802.6" stroke="#000" stroke-width="1.9" stroke-linecap="butt"/>
<line x1="505.4" y1="757.3" x2="523.8" y2="757.3" stroke="#000" stroke-width="1.9" stroke-linecap="butt"/>
<line x1="505.4" y1="802.6" x2="523.8" y2="802.6" stroke="#000" stroke-width="1.9" stroke-linecap="butt"/>
<line x1="495.9" y1="780" x2="533.3" y2="780" stroke="#000" stroke-width="1.9" stroke-linecap="butt"/>
<path d="M568.1 757.5L572 761.4L568.1 765.3L564.2 761.4Z" fill="#fff" stroke="#000" stroke-width="1.8" stroke-linejoin="miter"/>
<path d="M568.1 770.1L572 774L568.1 777.9L564.2 774Z" fill="#fff" stroke="#000" stroke-width="1.8" stroke-linejoin="miter"/>
<path d="M568.1 817.3L572 821.2L568.1 825.1L564.2 821.2Z" fill="#fff" stroke="#000" stroke-width="1.8" stroke-linejoin="miter"/>
<path d="M568.1 844.4L572 848.3L568.1 852.2L564.2 848.3Z" fill="#fff" stroke="#000" stroke-width="1.8" stroke-linejoin="miter"/>
<line x1="568.1" y1="780.6" x2="568.1" y2="821.5" stroke="#000" stroke-width="1.9" stroke-linecap="butt"/>
<line x1="558.9" y1="780.6" x2="577.3" y2="780.6" stroke="#000" stroke-width="1.9" stroke-linecap="butt"/>
<line x1="558.9" y1="821.5" x2="577.3" y2="821.5" stroke="#000" stroke-width="1.9" stroke-linecap="butt"/>
<line x1="549.4" y1="800.8" x2="586.8" y2="800.8" stroke="#000" stroke-width="1.9" stroke-linecap="butt"/>
<path d="M26.95 580.87L39.91 580.87L49.88 580.87L50.62 587.23L51.12 598.69L51.62 587.23L52.37 580.5C52.99 580.46 54.86 580.46 56.11 580.25C57.35 580.04 58.6 579.83 59.84 579.25C61.09 578.67 62.42 577.01 63.58 576.76C64.75 576.51 65.78 577.3 66.82 577.76C67.86 578.21 68.9 579.17 69.81 579.5C70.73 579.83 71.47 580.33 72.31 579.75C73.14 579.17 73.88 577.67 74.8 576.01C75.71 574.35 76.75 572.07 77.79 569.78C78.83 567.5 79.87 564.63 81.03 562.31C82.19 559.98 83.56 557.36 84.77 555.83C85.97 554.29 87.09 553.29 88.26 553.08C89.42 552.88 90.46 553.62 91.74 554.58C93.03 555.53 94.44 557.11 95.98 558.82C97.52 560.52 99.3 562.93 100.97 564.8C102.63 566.67 104.08 568.37 105.95 570.03C107.82 571.69 109.9 573.33 112.18 574.77C114.47 576.2 116.96 577.59 119.66 578.63C122.36 579.67 125.47 580.35 128.38 581C131.29 581.64 134.2 582.12 137.1 582.49C140.01 582.87 144.37 583.12 145.83 583.24" fill="none" stroke="#000" stroke-width="1.75" stroke-linecap="round" stroke-linejoin="round"/>
<path d="M26.95 580.5L39.91 580.5L49.88 580.5L50.62 587.23L51.12 596.7L51.62 587.23L52.37 580.25C52.99 580.21 54.86 580.21 56.11 580C57.35 579.79 58.6 579.58 59.84 579C61.09 578.42 62.67 576.72 63.58 576.51C64.5 576.3 64.79 576.39 65.33 577.76C65.87 579.13 66.32 581.99 66.82 584.74C67.32 587.48 67.82 592.13 68.32 594.21C68.82 596.28 69.31 597.2 69.81 597.2C70.31 597.2 70.81 596.49 71.31 594.21C71.81 591.92 72.26 587.98 72.8 583.49C73.34 579 74.01 572.07 74.55 567.29C75.09 562.51 75.59 557.94 76.04 554.83C76.5 551.71 76.85 550.13 77.29 548.6C77.73 547.06 78.12 545.98 78.66 545.61C79.2 545.23 79.93 545.98 80.53 546.36C81.13 546.73 81.61 547.39 82.27 547.85C82.94 548.31 83.4 548.76 84.52 549.1C85.64 549.43 87.72 549.3 89 549.84C90.29 550.38 91.08 551.21 92.24 552.34C93.41 553.46 94.79 555.16 95.98 556.57C97.17 557.99 97.94 559.15 99.4 560.81C100.85 562.47 102.99 564.8 104.7 566.54C106.42 568.29 108.11 569.88 109.69 571.28C111.27 572.68 112.31 573.82 114.17 574.94C116.04 576.06 118.43 577.14 120.9 578.01C123.37 578.87 126.3 579.5 129 580.12C131.7 580.75 134.38 581.33 137.1 581.74C139.82 582.16 143.96 582.49 145.33 582.64" fill="none" stroke="#ababab" stroke-width="1.75" stroke-linecap="round" stroke-linejoin="round"/>
<path d="M171.21 581.37L184.92 581.37L195.14 581.37L195.89 594.7L196.39 607.17L196.88 594.7L197.63 580.5C198.21 580.54 199.92 580.91 201.12 580.75C202.33 580.58 203.74 580.5 204.86 579.5C205.98 578.5 206.85 576.3 207.85 574.77C208.85 573.23 209.89 571.32 210.84 570.28C211.8 569.24 212.71 568.49 213.58 568.54C214.45 568.58 215.33 569.57 216.07 570.53C216.82 571.48 217.45 573.35 218.07 574.27C218.69 575.18 219.27 576.34 219.81 576.01C220.35 575.68 220.73 574.35 221.31 572.27C221.89 570.2 222.55 566.13 223.3 563.55C224.05 560.98 224.88 558.53 225.79 556.82C226.71 555.12 227.71 554.08 228.79 553.33C229.87 552.59 231.07 552.34 232.27 552.34C233.48 552.34 234.77 552.75 236.01 553.33C237.26 553.91 238.3 554.58 239.75 555.83C241.2 557.07 243.07 559.02 244.74 560.81C246.4 562.6 248.06 564.67 249.72 566.54C251.38 568.41 253.04 570.4 254.7 572.02C256.37 573.64 258.03 575.02 259.69 576.26C261.35 577.51 262.8 578.5 264.67 579.5C266.54 580.5 268.83 581.54 270.9 582.24C272.98 582.95 274.85 583.28 277.13 583.74C279.42 584.2 282.33 584.65 284.61 584.98C286.9 585.32 289.8 585.61 290.84 585.73" fill="none" stroke="#000" stroke-width="1.75" stroke-linecap="round" stroke-linejoin="round"/>
<path d="M171.21 581L184.92 581L195.14 581L195.89 594.7L196.39 609.66L196.88 594.7L197.63 580.25C198.21 580.29 199.92 580.66 201.12 580.5C202.33 580.33 203.82 580.08 204.86 579.25C205.9 578.42 206.6 576.47 207.35 575.51C208.1 574.56 208.68 573.23 209.35 573.52C210.01 573.81 210.67 574.97 211.34 577.26C212 579.54 212.67 584.32 213.33 587.23C214 590.13 214.66 593.13 215.33 594.7C215.99 596.28 216.74 597.11 217.32 596.7C217.9 596.28 218.32 595.45 218.82 592.21C219.31 588.97 219.81 583.07 220.31 577.26C220.81 571.44 221.35 562.22 221.81 557.32C222.26 552.42 222.6 549.89 223.05 547.85C223.51 545.82 224.01 545.28 224.55 545.11C225.09 544.94 225.75 546.27 226.29 546.85C226.83 547.44 227.21 548.52 227.79 548.6C228.37 548.68 229.03 547.56 229.78 547.35C230.53 547.14 231.24 546.73 232.27 547.35C233.31 547.98 234.77 549.6 236.01 551.09C237.26 552.59 238.3 554.25 239.75 556.32C241.2 558.4 243.07 561.23 244.74 563.55C246.4 565.88 248.06 568.12 249.72 570.28C251.38 572.44 253.04 574.68 254.7 576.51C256.37 578.34 258.03 579.96 259.69 581.25C261.35 582.53 263.01 583.49 264.67 584.24C266.33 584.98 267.17 585.28 269.66 585.73C272.15 586.19 276.1 586.69 279.63 586.98C283.16 587.27 288.97 587.39 290.84 587.48" fill="none" stroke="#ababab" stroke-width="1.75" stroke-linecap="round" stroke-linejoin="round"/>
<path d="M50.8 601.9L50.8 615.1L59.8 615.1" fill="none" stroke="#000" stroke-width="1.9"/>
<text x="47.7" y="614.1" font-size="10" text-anchor="end" fill="#000">2 mV</text>
<text x="43.9" y="624.5" font-size="9.8" text-anchor="start" fill="#000">2 ms</text>
<path d="M195.8 612.1L195.8 623.9L204.9 623.9" fill="none" stroke="#000" stroke-width="1.9"/>
<text x="192.2" y="623.3" font-size="10" text-anchor="end" fill="#000">2 mV</text>
<text x="188.9" y="634.6" font-size="9.8" text-anchor="start" fill="#000">2 ms</text>
<text x="76" y="517.5" font-size="11.7" text-anchor="middle" fill="#000">+/+</text>
<text x="75.6" y="532.5" font-size="11.7" text-anchor="middle" fill="#000">0-2 min</text>
<text x="238.5" y="517.5" font-size="11.7" text-anchor="middle" fill="#000">+/-</text>
<text x="237.8" y="532.5" font-size="11.7" text-anchor="middle" fill="#000">0-2 min</text>
<path d="M63.93 370.75V386.77M59.63 370.75h8.6M59.63 386.77h8.6M69.3 373.59V388.37M65 373.59h8.6M65 388.37h8.6M74.68 356.09V380.73M70.38 356.09h8.6M70.38 380.73h8.6M80.05 394.9V410.92M75.75 394.9h8.6M75.75 410.92h8.6M85.43 380.36V395.15M81.13 380.36h8.6M81.13 395.15h8.6M90.8 247.06V284.51M86.5 247.06h8.6M86.5 284.51h8.6M96.17 273.8V293.51M91.87 273.8h8.6M91.87 293.51h8.6M101.55 292.52V304.84M97.25 292.52h8.6M97.25 304.84h8.6M106.92 287.96V302.75M102.62 287.96h8.6M102.62 302.75h8.6M112.3 281.68V302.62M108 281.68h8.6M108 302.62h8.6M117.67 278.35V309.15M113.37 278.35h8.6M113.37 309.15h8.6M123.04 254.95V305.21M118.74 254.95h8.6M118.74 305.21h8.6M128.42 256.18V298.56M124.12 256.18h8.6M124.12 298.56h8.6M133.79 269.85V304.35M129.49 269.85h8.6M129.49 304.35h8.6M139.17 297.45V314.7M134.87 297.45h8.6M134.87 314.7h8.6M144.54 302.13V324.31M140.24 302.13h8.6M140.24 324.31h8.6M149.91 276.88V311.37M145.61 276.88h8.6M145.61 311.37h8.6M155.29 276.14V309.4M150.99 276.14h8.6M150.99 309.4h8.6M160.66 285.87V314.7M156.36 285.87h8.6M156.36 314.7h8.6M166.04 300.28V322.46M161.74 300.28h8.6M161.74 322.46h8.6M171.41 271.21V314.33M167.11 271.21h8.6M167.11 314.33h8.6M176.78 277.98V318.64M172.48 277.98h8.6M172.48 318.64h8.6M182.16 254.33V306.57M177.86 254.33h8.6M177.86 306.57h8.6M187.53 287.47V321.97M183.23 287.47h8.6M183.23 321.97h8.6M192.91 294.74V325.54M188.61 294.74h8.6M188.61 325.54h8.6M198.28 277.98V317.41M193.98 277.98h8.6M193.98 317.41h8.6M203.65 277.74V309.77M199.35 277.74h8.6M199.35 309.77h8.6M209.03 270.96V304.47M204.73 270.96h8.6M204.73 304.47h8.6M214.4 272.56V310.76M210.1 272.56h8.6M210.1 310.76h8.6M219.78 272.19V308.42M215.48 272.19h8.6M215.48 308.42h8.6M225.15 285.62V317.66M220.85 285.62h8.6M220.85 317.66h8.6M230.52 277.74V311.74M226.22 277.74h8.6M226.22 311.74h8.6M235.9 288.58V316.92M231.6 288.58h8.6M231.6 316.92h8.6M241.27 276.75V308.78M236.97 276.75h8.6M236.97 308.78h8.6M246.65 282.17V313.47M242.35 282.17h8.6M242.35 313.47h8.6M252.02 287.59V314.7M247.72 287.59h8.6M247.72 314.7h8.6M257.39 292.65V318.52M253.09 292.65h8.6M253.09 318.52h8.6M262.77 289.81V315.68M258.47 289.81h8.6M258.47 315.68h8.6M268.14 293.51V316.92M263.84 293.51h8.6M263.84 316.92h8.6M273.52 300.53V318.76M269.22 300.53h8.6M269.22 318.76h8.6M278.89 286.49V311.62M274.59 286.49h8.6M274.59 311.62h8.6M284.26 285.62V316.92M279.96 285.62h8.6M279.96 316.92h8.6M289.64 300.53V320.74M285.34 300.53h8.6M285.34 320.74h8.6M295.01 290.92V319.5M290.71 290.92h8.6M290.71 319.5h8.6M300.39 309.77V323.32M296.09 309.77h8.6M296.09 323.32h8.6M305.76 298.56V321.72M301.46 298.56h8.6M301.46 321.72h8.6M311.13 284.51V314.82M306.83 284.51h8.6M306.83 314.82h8.6M316.51 304.47V326.65M312.21 304.47h8.6M312.21 326.65h8.6M321.88 282.42V305.83M317.58 282.42h8.6M317.58 305.83h8.6M327.26 303.61V330.71M322.96 303.61h8.6M322.96 330.71h8.6" fill="none" stroke="#000" stroke-width="1.8"/>
<path d="M63.93 374.76l4 4l-4 4l-4 -4zM69.3 376.98l4 4l-4 4l-4 -4zM74.68 364.41l4 4l-4 4l-4 -4zM80.05 398.91l4 4l-4 4l-4 -4zM85.43 383.76l4 4l-4 4l-4 -4zM90.8 261.79l4 4l-4 4l-4 -4zM96.17 279.65l4 4l-4 4l-4 -4zM101.55 294.68l4 4l-4 4l-4 -4zM106.92 291.36l4 4l-4 4l-4 -4zM112.3 288.15l4 4l-4 4l-4 -4zM117.67 289.75l4 4l-4 4l-4 -4zM123.04 276.08l4 4l-4 4l-4 -4zM128.42 273.37l4 4l-4 4l-4 -4zM133.79 283.1l4 4l-4 4l-4 -4zM139.17 302.07l4 4l-4 4l-4 -4zM144.54 309.22l4 4l-4 4l-4 -4zM149.91 290.12l4 4l-4 4l-4 -4zM155.29 288.77l4 4l-4 4l-4 -4zM160.66 296.28l4 4l-4 4l-4 -4zM166.04 307.37l4 4l-4 4l-4 -4zM171.41 288.77l4 4l-4 4l-4 -4zM176.78 294.31l4 4l-4 4l-4 -4zM182.16 276.45l4 4l-4 4l-4 -4zM187.53 300.72l4 4l-4 4l-4 -4zM192.91 306.14l4 4l-4 4l-4 -4zM198.28 293.7l4 4l-4 4l-4 -4zM203.65 289.75l4 4l-4 4l-4 -4zM209.03 283.72l4 4l-4 4l-4 -4zM214.4 287.66l4 4l-4 4l-4 -4zM219.78 286.3l4 4l-4 4l-4 -4zM225.15 297.64l4 4l-4 4l-4 -4zM230.52 290.74l4 4l-4 4l-4 -4zM235.9 298.75l4 4l-4 4l-4 -4zM241.27 288.77l4 4l-4 4l-4 -4zM246.65 293.82l4 4l-4 4l-4 -4zM252.02 297.15l4 4l-4 4l-4 -4zM257.39 301.58l4 4l-4 4l-4 -4zM262.77 298.75l4 4l-4 4l-4 -4zM268.14 301.21l4 4l-4 4l-4 -4zM273.52 305.65l4 4l-4 4l-4 -4zM278.89 295.05l4 4l-4 4l-4 -4zM284.26 297.27l4 4l-4 4l-4 -4zM289.64 306.63l4 4l-4 4l-4 -4zM295.01 301.21l4 4l-4 4l-4 -4zM300.39 312.55l4 4l-4 4l-4 -4zM305.76 306.14l4 4l-4 4l-4 -4zM311.13 295.67l4 4l-4 4l-4 -4zM316.51 311.56l4 4l-4 4l-4 -4zM321.88 290.12l4 4l-4 4l-4 -4zM327.26 313.16l4 4l-4 4l-4 -4z" fill="#fff" stroke="#000" stroke-width="1.8"/>
<path d="M63.93 386.52V391.45M59.63 386.52h8.6M59.63 391.45h8.6M69.3 385.91V390.84M65 385.91h8.6M65 390.84h8.6M74.68 377.28V384.68M70.38 377.28h8.6M70.38 384.68h8.6M80.05 382.09V391.94M75.75 382.09h8.6M75.75 391.94h8.6M85.43 380.36V392.68M81.13 380.36h8.6M81.13 392.68h8.6M90.8 315.31V348.58M86.5 315.31h8.6M86.5 348.58h8.6M96.17 312.48V342.54M91.87 312.48h8.6M91.87 342.54h8.6M101.55 324.18V350.06M97.25 324.18h8.6M97.25 350.06h8.6M106.92 331.21V348.46M102.62 331.21h8.6M102.62 348.46h8.6M112.3 332.19V350.67M108 332.19h8.6M108 350.67h8.6M117.67 337.61V351.17M113.37 337.61h8.6M113.37 351.17h8.6M123.04 335.64V355.35M118.74 335.64h8.6M118.74 355.35h8.6M128.42 341.56V346.48M124.12 341.56h8.6M124.12 346.48h8.6M133.79 329.48V343.53M129.49 329.48h8.6M129.49 343.53h8.6M139.17 353.26V355.72M134.87 353.26h8.6M134.87 355.72h8.6M144.54 338.48V354.49M140.24 338.48h8.6M140.24 354.49h8.6M149.91 340.57V352.89M145.61 340.57h8.6M145.61 352.89h8.6M155.29 340.32V352.64M150.99 340.32h8.6M150.99 352.64h8.6M160.66 347.72V360.04M156.36 347.72h8.6M156.36 360.04h8.6M166.04 337.49V354.74M161.74 337.49h8.6M161.74 354.74h8.6M171.41 310.76V330.47M167.11 310.76h8.6M167.11 330.47h8.6M176.78 311.5V333.67M172.48 311.5h8.6M172.48 333.67h8.6M182.16 316.67V336.38M177.86 316.67h8.6M177.86 336.38h8.6M187.53 318.76V338.48M183.23 318.76h8.6M183.23 338.48h8.6M192.91 322.46V344.64M188.61 322.46h8.6M188.61 344.64h8.6M198.28 322.71V342.42M193.98 322.71h8.6M193.98 342.42h8.6M203.65 325.91V343.16M199.35 325.91h8.6M199.35 343.16h8.6M209.03 329.48V343.53M204.73 329.48h8.6M204.73 343.53h8.6M214.4 305.58V341.56M210.1 305.58h8.6M210.1 341.56h8.6M219.78 310.51V341.8M215.48 310.51h8.6M215.48 341.8h8.6M225.15 320.49V344.64M220.85 320.49h8.6M220.85 344.64h8.6M230.52 320.49V344.64M226.22 320.49h8.6M226.22 344.64h8.6M235.9 330.47V346.48M231.6 330.47h8.6M231.6 346.48h8.6M241.27 333.67V345.99M236.97 333.67h8.6M236.97 345.99h8.6M246.65 332.32V344.64M242.35 332.32h8.6M242.35 344.64h8.6M252.02 331.7V344.02M247.72 331.7h8.6M247.72 344.02h8.6M257.39 319.01V344.88M253.09 319.01h8.6M253.09 344.88h8.6M262.77 336.75V350.06M258.47 336.75h8.6M258.47 350.06h8.6M268.14 322.46V346.61M263.84 322.46h8.6M263.84 346.61h8.6M273.52 322.58V350.43M269.22 322.58h8.6M269.22 350.43h8.6M278.89 335.4V351.41M274.59 335.4h8.6M274.59 351.41h8.6M284.26 328.37V350.55M279.96 328.37h8.6M279.96 350.55h8.6M289.64 333.79V351.04M285.34 333.79h8.6M285.34 351.04h8.6M295.01 322.46V346.61M290.71 322.46h8.6M290.71 346.61h8.6M300.39 332.32V354.49M296.09 332.32h8.6M296.09 354.49h8.6M305.76 332.32V354.49M301.46 332.32h8.6M301.46 354.49h8.6M311.13 333.55V354.49M306.83 333.55h8.6M306.83 354.49h8.6M316.51 339.09V357.57M312.21 339.09h8.6M312.21 357.57h8.6M321.88 331.08V355.72M317.58 331.08h8.6M317.58 355.72h8.6M327.26 332.69V355.35M322.96 332.69h8.6M322.96 355.35h8.6" fill="none" stroke="#000" stroke-width="1.8"/>
<g fill="#000"><circle cx="63.93" cy="388.99" r="4.1"/><circle cx="69.3" cy="388.37" r="4.1"/><circle cx="74.68" cy="380.98" r="4.1"/><circle cx="80.05" cy="387.02" r="4.1"/><circle cx="85.43" cy="386.52" r="4.1"/><circle cx="90.8" cy="331.95" r="4.1"/><circle cx="96.17" cy="327.51" r="4.1"/><circle cx="101.55" cy="337.12" r="4.1"/><circle cx="106.92" cy="339.83" r="4.1"/><circle cx="112.3" cy="341.43" r="4.1"/><circle cx="117.67" cy="344.39" r="4.1"/><circle cx="123.04" cy="345.5" r="4.1"/><circle cx="128.42" cy="344.02" r="4.1"/><circle cx="133.79" cy="336.5" r="4.1"/><circle cx="139.17" cy="354.49" r="4.1"/><circle cx="144.54" cy="346.48" r="4.1"/><circle cx="149.91" cy="346.73" r="4.1"/><circle cx="155.29" cy="346.48" r="4.1"/><circle cx="160.66" cy="353.88" r="4.1"/><circle cx="166.04" cy="346.11" r="4.1"/><circle cx="171.41" cy="320.61" r="4.1"/><circle cx="176.78" cy="322.58" r="4.1"/><circle cx="182.16" cy="326.53" r="4.1"/><circle cx="187.53" cy="328.62" r="4.1"/><circle cx="192.91" cy="333.55" r="4.1"/><circle cx="198.28" cy="332.56" r="4.1"/><circle cx="203.65" cy="334.53" r="4.1"/><circle cx="209.03" cy="336.5" r="4.1"/><circle cx="214.4" cy="323.57" r="4.1"/><circle cx="219.78" cy="326.16" r="4.1"/><circle cx="225.15" cy="332.56" r="4.1"/><circle cx="230.52" cy="332.56" r="4.1"/><circle cx="235.9" cy="338.48" r="4.1"/><circle cx="241.27" cy="339.83" r="4.1"/><circle cx="246.65" cy="338.48" r="4.1"/><circle cx="252.02" cy="337.86" r="4.1"/><circle cx="257.39" cy="331.95" r="4.1"/><circle cx="262.77" cy="343.4" r="4.1"/><circle cx="268.14" cy="334.53" r="4.1"/><circle cx="273.52" cy="336.5" r="4.1"/><circle cx="278.89" cy="343.4" r="4.1"/><circle cx="284.26" cy="339.46" r="4.1"/><circle cx="289.64" cy="342.42" r="4.1"/><circle cx="295.01" cy="334.53" r="4.1"/><circle cx="300.39" cy="343.4" r="4.1"/><circle cx="305.76" cy="343.4" r="4.1"/><circle cx="311.13" cy="344.02" r="4.1"/><circle cx="316.51" cy="348.33" r="4.1"/><circle cx="321.88" cy="343.4" r="4.1"/><circle cx="327.26" cy="344.02" r="4.1"/></g>
<line x1="44.7" y1="234.98" x2="44.7" y2="409.42" stroke="#000" stroke-width="2.05" stroke-linecap="butt"/>
<line x1="38.7" y1="236" x2="44.7" y2="236" stroke="#000" stroke-width="1.95" stroke-linecap="butt"/>
<text x="34.4" y="241.15" font-size="11.3" text-anchor="end" fill="#000">220</text>
<line x1="38.7" y1="260.63" x2="44.7" y2="260.63" stroke="#000" stroke-width="1.95" stroke-linecap="butt"/>
<text x="34.4" y="265.78" font-size="11.3" text-anchor="end" fill="#000">200</text>
<line x1="38.7" y1="285.26" x2="44.7" y2="285.26" stroke="#000" stroke-width="1.95" stroke-linecap="butt"/>
<text x="34.4" y="290.41" font-size="11.3" text-anchor="end" fill="#000">180</text>
<line x1="38.7" y1="309.89" x2="44.7" y2="309.89" stroke="#000" stroke-width="1.95" stroke-linecap="butt"/>
<text x="34.4" y="315.03" font-size="11.3" text-anchor="end" fill="#000">160</text>
<line x1="38.7" y1="334.52" x2="44.7" y2="334.52" stroke="#000" stroke-width="1.95" stroke-linecap="butt"/>
<text x="34.4" y="339.66" font-size="11.3" text-anchor="end" fill="#000">140</text>
<line x1="38.7" y1="359.14" x2="44.7" y2="359.14" stroke="#000" stroke-width="1.95" stroke-linecap="butt"/>
<text x="34.4" y="364.29" font-size="11.3" text-anchor="end" fill="#000">120</text>
<line x1="38.7" y1="383.77" x2="44.7" y2="383.77" stroke="#000" stroke-width="1.95" stroke-linecap="butt"/>
<text x="34.4" y="388.92" font-size="11.3" text-anchor="end" fill="#000">100</text>
<line x1="38.7" y1="408.4" x2="44.7" y2="408.4" stroke="#000" stroke-width="1.95" stroke-linecap="butt"/>
<text x="36.7" y="414.05" font-size="11.3" text-anchor="end" fill="#000">80</text>
<line x1="63.03" y1="427.7" x2="333.53" y2="427.7" stroke="#000" stroke-width="2.05" stroke-linecap="butt"/>
<line x1="63.93" y1="427.7" x2="63.93" y2="433.2" stroke="#000" stroke-width="1.95" stroke-linecap="butt"/>
<text x="62.83" y="444.4" font-size="10.6" text-anchor="middle" fill="#000">-10</text>
<line x1="90.8" y1="427.7" x2="90.8" y2="433.2" stroke="#000" stroke-width="1.95" stroke-linecap="butt"/>
<text x="89.7" y="444.4" font-size="10.6" text-anchor="middle" fill="#000">0</text>
<line x1="117.67" y1="427.7" x2="117.67" y2="433.2" stroke="#000" stroke-width="1.95" stroke-linecap="butt"/>
<text x="116.57" y="444.4" font-size="10.6" text-anchor="middle" fill="#000">10</text>
<line x1="144.54" y1="427.7" x2="144.54" y2="433.2" stroke="#000" stroke-width="1.95" stroke-linecap="butt"/>
<text x="143.44" y="444.4" font-size="10.6" text-anchor="middle" fill="#000">20</text>
<line x1="171.41" y1="427.7" x2="171.41" y2="433.2" stroke="#000" stroke-width="1.95" stroke-linecap="butt"/>
<text x="170.31" y="444.4" font-size="10.6" text-anchor="middle" fill="#000">30</text>
<line x1="198.28" y1="427.7" x2="198.28" y2="433.2" stroke="#000" stroke-width="1.95" stroke-linecap="butt"/>
<text x="197.18" y="444.4" font-size="10.6" text-anchor="middle" fill="#000">40</text>
<line x1="225.15" y1="427.7" x2="225.15" y2="433.2" stroke="#000" stroke-width="1.95" stroke-linecap="butt"/>
<text x="224.05" y="444.4" font-size="10.6" text-anchor="middle" fill="#000">50</text>
<line x1="252.02" y1="427.7" x2="252.02" y2="433.2" stroke="#000" stroke-width="1.95" stroke-linecap="butt"/>
<text x="250.92" y="444.4" font-size="10.6" text-anchor="middle" fill="#000">60</text>
<line x1="278.89" y1="427.7" x2="278.89" y2="433.2" stroke="#000" stroke-width="1.95" stroke-linecap="butt"/>
<text x="277.79" y="444.4" font-size="10.6" text-anchor="middle" fill="#000">70</text>
<line x1="305.76" y1="427.7" x2="305.76" y2="433.2" stroke="#000" stroke-width="1.95" stroke-linecap="butt"/>
<text x="304.66" y="444.4" font-size="10.6" text-anchor="middle" fill="#000">80</text>
<line x1="332.63" y1="427.7" x2="332.63" y2="433.2" stroke="#000" stroke-width="1.95" stroke-linecap="butt"/>
<text x="331.53" y="444.4" font-size="10.6" text-anchor="middle" fill="#000">90</text>
<text x="198.8" y="461.2" font-size="11.2" text-anchor="middle" fill="#000">time (min)</text>
<text x="11" y="322.6" font-size="11.2" text-anchor="middle" transform="rotate(-90 11 322.6)" fill="#000">spike amplitude (%&#160; baseline)</text>
<line x1="90.5" y1="397.6" x2="90.5" y2="406.7" stroke="#333" stroke-width="0.9" stroke-linecap="butt"/>
<path d="M88.9 399.8L90.5 397.6L92.1 399.8" fill="none" stroke="#333" stroke-width="0.9"/>
<text x="93.6" y="405" font-size="11.3" text-anchor="start" fill="#000">wTBS</text>
<line x1="170.9" y1="360" x2="170.9" y2="367.7" stroke="#a2a2a2" stroke-width="1.8" stroke-linecap="butt"/>
<path d="M169.2 360.6L170.9 358.2L172.6 360.6" fill="none" stroke="#222" stroke-width="0.9"/>
<text x="174" y="365.2" font-size="11.4" text-anchor="start" fill="#000">sTBS</text>
<circle cx="212.3" cy="377.7" r="4.1" fill="#000"/>
<text x="218.5" y="381.2" font-size="11.2" text-anchor="start" fill="#000">Nbea+/+</text>
<path d="M212.5 400.5L216.5 404.5L212.5 408.5L208.5 404.5Z" fill="#fff" stroke="#000" stroke-width="1.8" stroke-linejoin="miter"/>
<text x="219.8" y="408.2" font-size="11.2" text-anchor="start" fill="#000">Nbea+/-</text>
<path d="M61.68 834.69V843.75M58.08 834.69h7.2M58.08 843.75h7.2M68.24 832.09V836.62M64.64 832.09h7.2M64.64 836.62h7.2M74.8 834.92V842.84M71.2 834.92h7.2M71.2 842.84h7.2M81.36 828.12V831.52M77.76 828.12h7.2M77.76 831.52h7.2M87.92 833.22V837.75M84.32 833.22h7.2M84.32 837.75h7.2M94.48 832.09V836.62M90.88 832.09h7.2M90.88 836.62h7.2M101.04 827.67V831.07M97.44 827.67h7.2M97.44 831.07h7.2M107.6 759.15V781.8M104 759.15h7.2M104 781.8h7.2M114.16 756.21V783.39M110.56 756.21h7.2M110.56 783.39h7.2M120.72 755.08V789.05M117.12 755.08h7.2M117.12 789.05h7.2M127.28 754.06V781.24M123.68 754.06h7.2M123.68 781.24h7.2M133.84 756.55V788.26M130.24 756.55h7.2M130.24 788.26h7.2M140.4 754.06V799.36M136.8 754.06h7.2M136.8 799.36h7.2M146.96 768.21V794.26M143.36 768.21h7.2M143.36 794.26h7.2M153.52 772.97V810.34M149.92 772.97h7.2M149.92 810.34h7.2M160.08 772.97V810.34M156.48 772.97h7.2M156.48 810.34h7.2M166.64 781.58V811.02M163.04 781.58h7.2M163.04 811.02h7.2M173.2 769.57V814.87M169.6 769.57h7.2M169.6 814.87h7.2M179.76 773.08V803.66M176.16 773.08h7.2M176.16 803.66h7.2M186.32 780.1V822.01M182.72 780.1h7.2M182.72 822.01h7.2M192.88 775.01V811.25M189.28 775.01h7.2M189.28 811.25h7.2M199.44 778.74V814.98M195.84 778.74h7.2M195.84 814.98h7.2M206 774.44V822.01M202.4 774.44h7.2M202.4 822.01h7.2M212.56 775.01V815.78M208.96 775.01h7.2M208.96 815.78h7.2M219.12 779.08V822.12M215.52 779.08h7.2M215.52 822.12h7.2M225.68 774.55V819.85M222.08 774.55h7.2M222.08 819.85h7.2M232.24 776.14V827.1M228.64 776.14h7.2M228.64 827.1h7.2M238.8 788.26V827.89M235.2 788.26h7.2M235.2 827.89h7.2M245.36 784.75V822.12M241.76 784.75h7.2M241.76 822.12h7.2M251.92 777.5V821.89M248.32 777.5h7.2M248.32 821.89h7.2M258.48 772.74V823.7M254.88 772.74h7.2M254.88 823.7h7.2M265.04 788.03V836.5M261.44 788.03h7.2M261.44 836.5h7.2M271.6 784.97V833.22M268 784.97h7.2M268 833.22h7.2M278.16 784.97V833.9M274.56 784.97h7.2M274.56 833.9h7.2M284.72 780.44V833.9M281.12 780.44h7.2M281.12 833.9h7.2M291.28 783.5V826.08M287.68 783.5h7.2M287.68 826.08h7.2M297.84 787.46V834.58M294.24 787.46h7.2M294.24 834.58h7.2M304.4 785.65V827.55M300.8 785.65h7.2M300.8 827.55h7.2M310.96 791.32V840.01M307.36 791.32h7.2M307.36 840.01h7.2M317.52 782.71V829.82M313.92 782.71h7.2M313.92 829.82h7.2M324.08 784.75V834.58M320.48 784.75h7.2M320.48 834.58h7.2M330.64 777.39V834.01M327.04 777.39h7.2M327.04 834.01h7.2M337.2 787.24V829.82M333.6 787.24h7.2M333.6 829.82h7.2M343.76 783.16V827.55M340.16 783.16h7.2M340.16 827.55h7.2M350.32 783.5V834.01M346.72 783.5h7.2M346.72 834.01h7.2M356.88 793.24V837.41M353.28 793.24h7.2M353.28 837.41h7.2M363.44 778.18V829.82M359.84 778.18h7.2M359.84 829.82h7.2M370 786.56V842.05M366.4 786.56h7.2M366.4 842.05h7.2M376.56 788.71V840.81M372.96 788.71h7.2M372.96 840.81h7.2M383.12 780.67V836.39M379.52 780.67h7.2M379.52 836.39h7.2M389.68 787.35V843.98M386.08 787.35h7.2M386.08 843.98h7.2M396.24 792.11V844.88M392.64 792.11h7.2M392.64 844.88h7.2" fill="none" stroke="#000" stroke-width="1.7"/>
<path d="M61.68 835.42l3.8 3.8l-3.8 3.8l-3.8 -3.8zM68.24 830.55l3.8 3.8l-3.8 3.8l-3.8 -3.8zM74.8 835.08l3.8 3.8l-3.8 3.8l-3.8 -3.8zM81.36 826.02l3.8 3.8l-3.8 3.8l-3.8 -3.8zM87.92 831.68l3.8 3.8l-3.8 3.8l-3.8 -3.8zM94.48 830.55l3.8 3.8l-3.8 3.8l-3.8 -3.8zM101.04 825.57l3.8 3.8l-3.8 3.8l-3.8 -3.8zM107.6 766.68l3.8 3.8l-3.8 3.8l-3.8 -3.8zM114.16 766l3.8 3.8l-3.8 3.8l-3.8 -3.8zM120.72 768.26l3.8 3.8l-3.8 3.8l-3.8 -3.8zM127.28 763.85l3.8 3.8l-3.8 3.8l-3.8 -3.8zM133.84 768.6l3.8 3.8l-3.8 3.8l-3.8 -3.8zM140.4 772.91l3.8 3.8l-3.8 3.8l-3.8 -3.8zM146.96 777.44l3.8 3.8l-3.8 3.8l-3.8 -3.8zM153.52 787.85l3.8 3.8l-3.8 3.8l-3.8 -3.8zM160.08 787.85l3.8 3.8l-3.8 3.8l-3.8 -3.8zM166.64 792.5l3.8 3.8l-3.8 3.8l-3.8 -3.8zM173.2 788.42l3.8 3.8l-3.8 3.8l-3.8 -3.8zM179.76 784.57l3.8 3.8l-3.8 3.8l-3.8 -3.8zM186.32 797.25l3.8 3.8l-3.8 3.8l-3.8 -3.8zM192.88 789.33l3.8 3.8l-3.8 3.8l-3.8 -3.8zM199.44 793.06l3.8 3.8l-3.8 3.8l-3.8 -3.8zM206 794.42l3.8 3.8l-3.8 3.8l-3.8 -3.8zM212.56 791.59l3.8 3.8l-3.8 3.8l-3.8 -3.8zM219.12 796.8l3.8 3.8l-3.8 3.8l-3.8 -3.8zM225.68 793.4l3.8 3.8l-3.8 3.8l-3.8 -3.8zM232.24 797.82l3.8 3.8l-3.8 3.8l-3.8 -3.8zM238.8 804.28l3.8 3.8l-3.8 3.8l-3.8 -3.8zM245.36 799.63l3.8 3.8l-3.8 3.8l-3.8 -3.8zM251.92 795.9l3.8 3.8l-3.8 3.8l-3.8 -3.8zM258.48 794.42l3.8 3.8l-3.8 3.8l-3.8 -3.8zM265.04 808.47l3.8 3.8l-3.8 3.8l-3.8 -3.8zM271.6 805.3l3.8 3.8l-3.8 3.8l-3.8 -3.8zM278.16 805.63l3.8 3.8l-3.8 3.8l-3.8 -3.8zM284.72 803.37l3.8 3.8l-3.8 3.8l-3.8 -3.8zM291.28 800.99l3.8 3.8l-3.8 3.8l-3.8 -3.8zM297.84 807.22l3.8 3.8l-3.8 3.8l-3.8 -3.8zM304.4 802.8l3.8 3.8l-3.8 3.8l-3.8 -3.8zM310.96 811.86l3.8 3.8l-3.8 3.8l-3.8 -3.8zM317.52 802.46l3.8 3.8l-3.8 3.8l-3.8 -3.8zM324.08 805.86l3.8 3.8l-3.8 3.8l-3.8 -3.8zM330.64 801.9l3.8 3.8l-3.8 3.8l-3.8 -3.8zM337.2 804.73l3.8 3.8l-3.8 3.8l-3.8 -3.8zM343.76 801.56l3.8 3.8l-3.8 3.8l-3.8 -3.8zM350.32 804.96l3.8 3.8l-3.8 3.8l-3.8 -3.8zM356.88 811.52l3.8 3.8l-3.8 3.8l-3.8 -3.8zM363.44 800.2l3.8 3.8l-3.8 3.8l-3.8 -3.8zM370 810.5l3.8 3.8l-3.8 3.8l-3.8 -3.8zM376.56 810.96l3.8 3.8l-3.8 3.8l-3.8 -3.8zM383.12 804.73l3.8 3.8l-3.8 3.8l-3.8 -3.8zM389.68 811.86l3.8 3.8l-3.8 3.8l-3.8 -3.8zM396.24 814.7l3.8 3.8l-3.8 3.8l-3.8 -3.8z" fill="#fff" stroke="#000" stroke-width="1.7"/>
<path d="M61.68 827.1V830.5M58.08 827.1h7.2M58.08 830.5h7.2M68.24 831.86V835.26M64.64 831.86h7.2M64.64 835.26h7.2M74.8 832.76V836.16M71.2 832.76h7.2M71.2 836.16h7.2M81.36 834.12V838.65M77.76 834.12h7.2M77.76 838.65h7.2M87.92 830.95V834.35M84.32 830.95h7.2M84.32 834.35h7.2M94.48 836.95V840.35M90.88 836.95h7.2M90.88 840.35h7.2M101.04 831.41V835.94M97.44 831.41h7.2M97.44 835.94h7.2M107.6 749.64V780.22M104 749.64h7.2M104 780.22h7.2M114.16 752.24V786.9M110.56 752.24h7.2M110.56 786.9h7.2M120.72 749.19V796.75M117.12 749.19h7.2M117.12 796.75h7.2M127.28 745.9V764.02M123.68 745.9h7.2M123.68 764.02h7.2M133.84 742.16V798.79M130.24 742.16h7.2M130.24 798.79h7.2M140.4 749.87V779.99M136.8 749.87h7.2M136.8 779.99h7.2M146.96 751.45V780.9M143.36 751.45h7.2M143.36 780.9h7.2M153.52 759.83V782.48M149.92 759.83h7.2M149.92 782.48h7.2M160.08 750.66V784.63M156.48 750.66h7.2M156.48 784.63h7.2M166.64 749.41V789.05M163.04 749.41h7.2M163.04 789.05h7.2M173.2 757.11V788.82M169.6 757.11h7.2M169.6 788.82h7.2M179.76 767.08V785.2M176.16 767.08h7.2M176.16 785.2h7.2M186.32 760.74V782.25M182.72 760.74h7.2M182.72 782.25h7.2M192.88 749.53V784.63M189.28 749.53h7.2M189.28 784.63h7.2M199.44 744.77V814.98M195.84 744.77h7.2M195.84 814.98h7.2M206 752.24V802.07M202.4 752.24h7.2M202.4 802.07h7.2M212.56 751.68V792.45M208.96 751.68h7.2M208.96 792.45h7.2M219.12 753.38V795.28M215.52 753.38h7.2M215.52 795.28h7.2M225.68 756.89V785.2M222.08 756.89h7.2M222.08 785.2h7.2M232.24 752.36V794.26M228.64 752.36h7.2M228.64 794.26h7.2M238.8 752.58V782.03M235.2 752.58h7.2M235.2 782.03h7.2M245.36 752.36V811.25M241.76 752.36h7.2M241.76 811.25h7.2M251.92 746.81V777.39M248.32 746.81h7.2M248.32 777.39h7.2M258.48 746.24V777.95M254.88 746.24h7.2M254.88 777.95h7.2M265.04 765.27V789.05M261.44 765.27h7.2M261.44 789.05h7.2M271.6 759.15V798.79M268 759.15h7.2M268 798.79h7.2M278.16 738.99V782.03M274.56 738.99h7.2M274.56 782.03h7.2M284.72 748.96V785.2M281.12 748.96h7.2M281.12 785.2h7.2M291.28 749.41V787.92M287.68 749.41h7.2M287.68 787.92h7.2M297.84 760.85V801.62M294.24 760.85h7.2M294.24 801.62h7.2M304.4 744.88V791.32M300.8 744.88h7.2M300.8 791.32h7.2M310.96 748.28V783.39M307.36 748.28h7.2M307.36 783.39h7.2M317.52 760.85V801.62M313.92 760.85h7.2M313.92 801.62h7.2M324.08 766.97V804.34M320.48 766.97h7.2M320.48 804.34h7.2M330.64 752.58V792.22M327.04 752.58h7.2M327.04 792.22h7.2M337.2 752.36V788.6M333.6 752.36h7.2M333.6 788.6h7.2M343.76 754.85V789.96M340.16 754.85h7.2M340.16 789.96h7.2M350.32 743.18V799.81M346.72 743.18h7.2M346.72 799.81h7.2M356.88 753.38V796.41M353.28 753.38h7.2M353.28 796.41h7.2M363.44 741.71V789.96M359.84 741.71h7.2M359.84 789.96h7.2M370 760.51V789.96M366.4 760.51h7.2M366.4 789.96h7.2M376.56 745.45V786.22M372.96 745.45h7.2M372.96 786.22h7.2M383.12 730.5V791.65M379.52 730.5h7.2M379.52 791.65h7.2M389.68 735.37V788.82M386.08 735.37h7.2M386.08 788.82h7.2M396.24 740.92V808.87M392.64 740.92h7.2M392.64 808.87h7.2" fill="none" stroke="#000" stroke-width="1.7"/>
<g fill="#000"><circle cx="61.68" cy="828.8" r="3.9"/><circle cx="68.24" cy="833.56" r="3.9"/><circle cx="74.8" cy="834.46" r="3.9"/><circle cx="81.36" cy="836.39" r="3.9"/><circle cx="87.92" cy="832.65" r="3.9"/><circle cx="94.48" cy="838.65" r="3.9"/><circle cx="101.04" cy="833.67" r="3.9"/><circle cx="107.6" cy="764.93" r="3.9"/><circle cx="114.16" cy="769.57" r="3.9"/><circle cx="120.72" cy="772.97" r="3.9"/><circle cx="127.28" cy="754.96" r="3.9"/><circle cx="133.84" cy="770.48" r="3.9"/><circle cx="140.4" cy="764.93" r="3.9"/><circle cx="146.96" cy="766.17" r="3.9"/><circle cx="153.52" cy="771.16" r="3.9"/><circle cx="160.08" cy="767.65" r="3.9"/><circle cx="166.64" cy="769.23" r="3.9"/><circle cx="173.2" cy="772.97" r="3.9"/><circle cx="179.76" cy="776.14" r="3.9"/><circle cx="186.32" cy="771.5" r="3.9"/><circle cx="192.88" cy="767.08" r="3.9"/><circle cx="199.44" cy="779.88" r="3.9"/><circle cx="206" cy="777.16" r="3.9"/><circle cx="212.56" cy="772.06" r="3.9"/><circle cx="219.12" cy="774.33" r="3.9"/><circle cx="225.68" cy="771.04" r="3.9"/><circle cx="232.24" cy="773.31" r="3.9"/><circle cx="238.8" cy="767.31" r="3.9"/><circle cx="245.36" cy="781.8" r="3.9"/><circle cx="251.92" cy="762.1" r="3.9"/><circle cx="258.48" cy="762.1" r="3.9"/><circle cx="265.04" cy="777.16" r="3.9"/><circle cx="271.6" cy="778.97" r="3.9"/><circle cx="278.16" cy="760.51" r="3.9"/><circle cx="284.72" cy="767.08" r="3.9"/><circle cx="291.28" cy="768.66" r="3.9"/><circle cx="297.84" cy="781.24" r="3.9"/><circle cx="304.4" cy="768.1" r="3.9"/><circle cx="310.96" cy="765.83" r="3.9"/><circle cx="317.52" cy="781.24" r="3.9"/><circle cx="324.08" cy="785.65" r="3.9"/><circle cx="330.64" cy="772.4" r="3.9"/><circle cx="337.2" cy="770.48" r="3.9"/><circle cx="343.76" cy="772.4" r="3.9"/><circle cx="350.32" cy="771.5" r="3.9"/><circle cx="356.88" cy="774.89" r="3.9"/><circle cx="363.44" cy="765.83" r="3.9"/><circle cx="370" cy="775.23" r="3.9"/><circle cx="376.56" cy="765.83" r="3.9"/><circle cx="383.12" cy="761.08" r="3.9"/><circle cx="389.68" cy="762.1" r="3.9"/><circle cx="396.24" cy="774.89" r="3.9"/></g>
<line x1="43.8" y1="720.08" x2="43.8" y2="858.02" stroke="#000" stroke-width="2.05" stroke-linecap="butt"/>
<line x1="38.6" y1="721.1" x2="43.8" y2="721.1" stroke="#000" stroke-width="1.95" stroke-linecap="butt"/>
<text x="35.9" y="725" font-size="10.9" text-anchor="end" fill="#000">200</text>
<line x1="38.6" y1="743.75" x2="43.8" y2="743.75" stroke="#000" stroke-width="1.95" stroke-linecap="butt"/>
<text x="35.9" y="747.65" font-size="10.9" text-anchor="end" fill="#000">180</text>
<line x1="38.6" y1="766.4" x2="43.8" y2="766.4" stroke="#000" stroke-width="1.95" stroke-linecap="butt"/>
<text x="35.9" y="770.3" font-size="10.9" text-anchor="end" fill="#000">160</text>
<line x1="38.6" y1="789.05" x2="43.8" y2="789.05" stroke="#000" stroke-width="1.95" stroke-linecap="butt"/>
<text x="35.9" y="792.95" font-size="10.9" text-anchor="end" fill="#000">140</text>
<line x1="38.6" y1="811.7" x2="43.8" y2="811.7" stroke="#000" stroke-width="1.95" stroke-linecap="butt"/>
<text x="35.9" y="815.6" font-size="10.9" text-anchor="end" fill="#000">120</text>
<line x1="38.6" y1="834.35" x2="43.8" y2="834.35" stroke="#000" stroke-width="1.95" stroke-linecap="butt"/>
<text x="35.9" y="838.25" font-size="10.9" text-anchor="end" fill="#000">100</text>
<line x1="38.6" y1="857" x2="43.8" y2="857" stroke="#000" stroke-width="1.95" stroke-linecap="butt"/>
<text x="36.4" y="861.7" font-size="10.9" text-anchor="end" fill="#000">80</text>
<line x1="57.6" y1="871.9" x2="403.6" y2="871.9" stroke="#000" stroke-width="2.05" stroke-linecap="butt"/>
<line x1="58.4" y1="871.9" x2="58.4" y2="876.9" stroke="#000" stroke-width="1.95" stroke-linecap="butt"/>
<text x="57.4" y="889.8" font-size="10.5" text-anchor="middle" fill="#000">-15</text>
<line x1="107.6" y1="871.9" x2="107.6" y2="876.9" stroke="#000" stroke-width="1.95" stroke-linecap="butt"/>
<text x="106.6" y="889.8" font-size="10.5" text-anchor="middle" fill="#000">0</text>
<line x1="156.8" y1="871.9" x2="156.8" y2="876.9" stroke="#000" stroke-width="1.95" stroke-linecap="butt"/>
<text x="155.8" y="889.8" font-size="10.5" text-anchor="middle" fill="#000">15</text>
<line x1="206" y1="871.9" x2="206" y2="876.9" stroke="#000" stroke-width="1.95" stroke-linecap="butt"/>
<text x="205" y="889.8" font-size="10.5" text-anchor="middle" fill="#000">30</text>
<line x1="255.2" y1="871.9" x2="255.2" y2="876.9" stroke="#000" stroke-width="1.95" stroke-linecap="butt"/>
<text x="254.2" y="889.8" font-size="10.5" text-anchor="middle" fill="#000">45</text>
<line x1="304.4" y1="871.9" x2="304.4" y2="876.9" stroke="#000" stroke-width="1.95" stroke-linecap="butt"/>
<text x="303.4" y="889.8" font-size="10.5" text-anchor="middle" fill="#000">60</text>
<line x1="353.6" y1="871.9" x2="353.6" y2="876.9" stroke="#000" stroke-width="1.95" stroke-linecap="butt"/>
<text x="352.6" y="889.8" font-size="10.5" text-anchor="middle" fill="#000">75</text>
<line x1="402.8" y1="871.9" x2="402.8" y2="876.9" stroke="#000" stroke-width="1.95" stroke-linecap="butt"/>
<text x="401.8" y="889.8" font-size="10.5" text-anchor="middle" fill="#000">90</text>
<text x="230.1" y="900.6" font-size="10.9" text-anchor="middle" fill="#000">time (min)</text>
<text x="10.9" y="791" font-size="11.1" text-anchor="middle" transform="rotate(-90 10.9 791)" fill="#000">fEPSP slope (%&#160; baseline)</text>
<line x1="107.3" y1="839" x2="107.3" y2="849" stroke="#222" stroke-width="0.9" stroke-linecap="butt"/>
<path d="M105.7 841.2L107.3 839L108.9 841.2" fill="none" stroke="#222" stroke-width="0.9"/>
<text x="110.6" y="845.9" font-size="11.2" text-anchor="start" fill="#000">wTBS</text>
<circle cx="107.2" cy="714.3" r="3.9" fill="#000"/>
<text x="114" y="717.9" font-size="11.2" text-anchor="start" fill="#000">Nbea+/+</text>
<path d="M168.6 710.9L172.6 714.9L168.6 718.9L164.6 714.9Z" fill="#fff" stroke="#000" stroke-width="1.8" stroke-linejoin="miter"/>
<text x="175.2" y="717.9" font-size="11.2" text-anchor="start" fill="#000">Nbea+/-</text>
</svg>
</body></html>
